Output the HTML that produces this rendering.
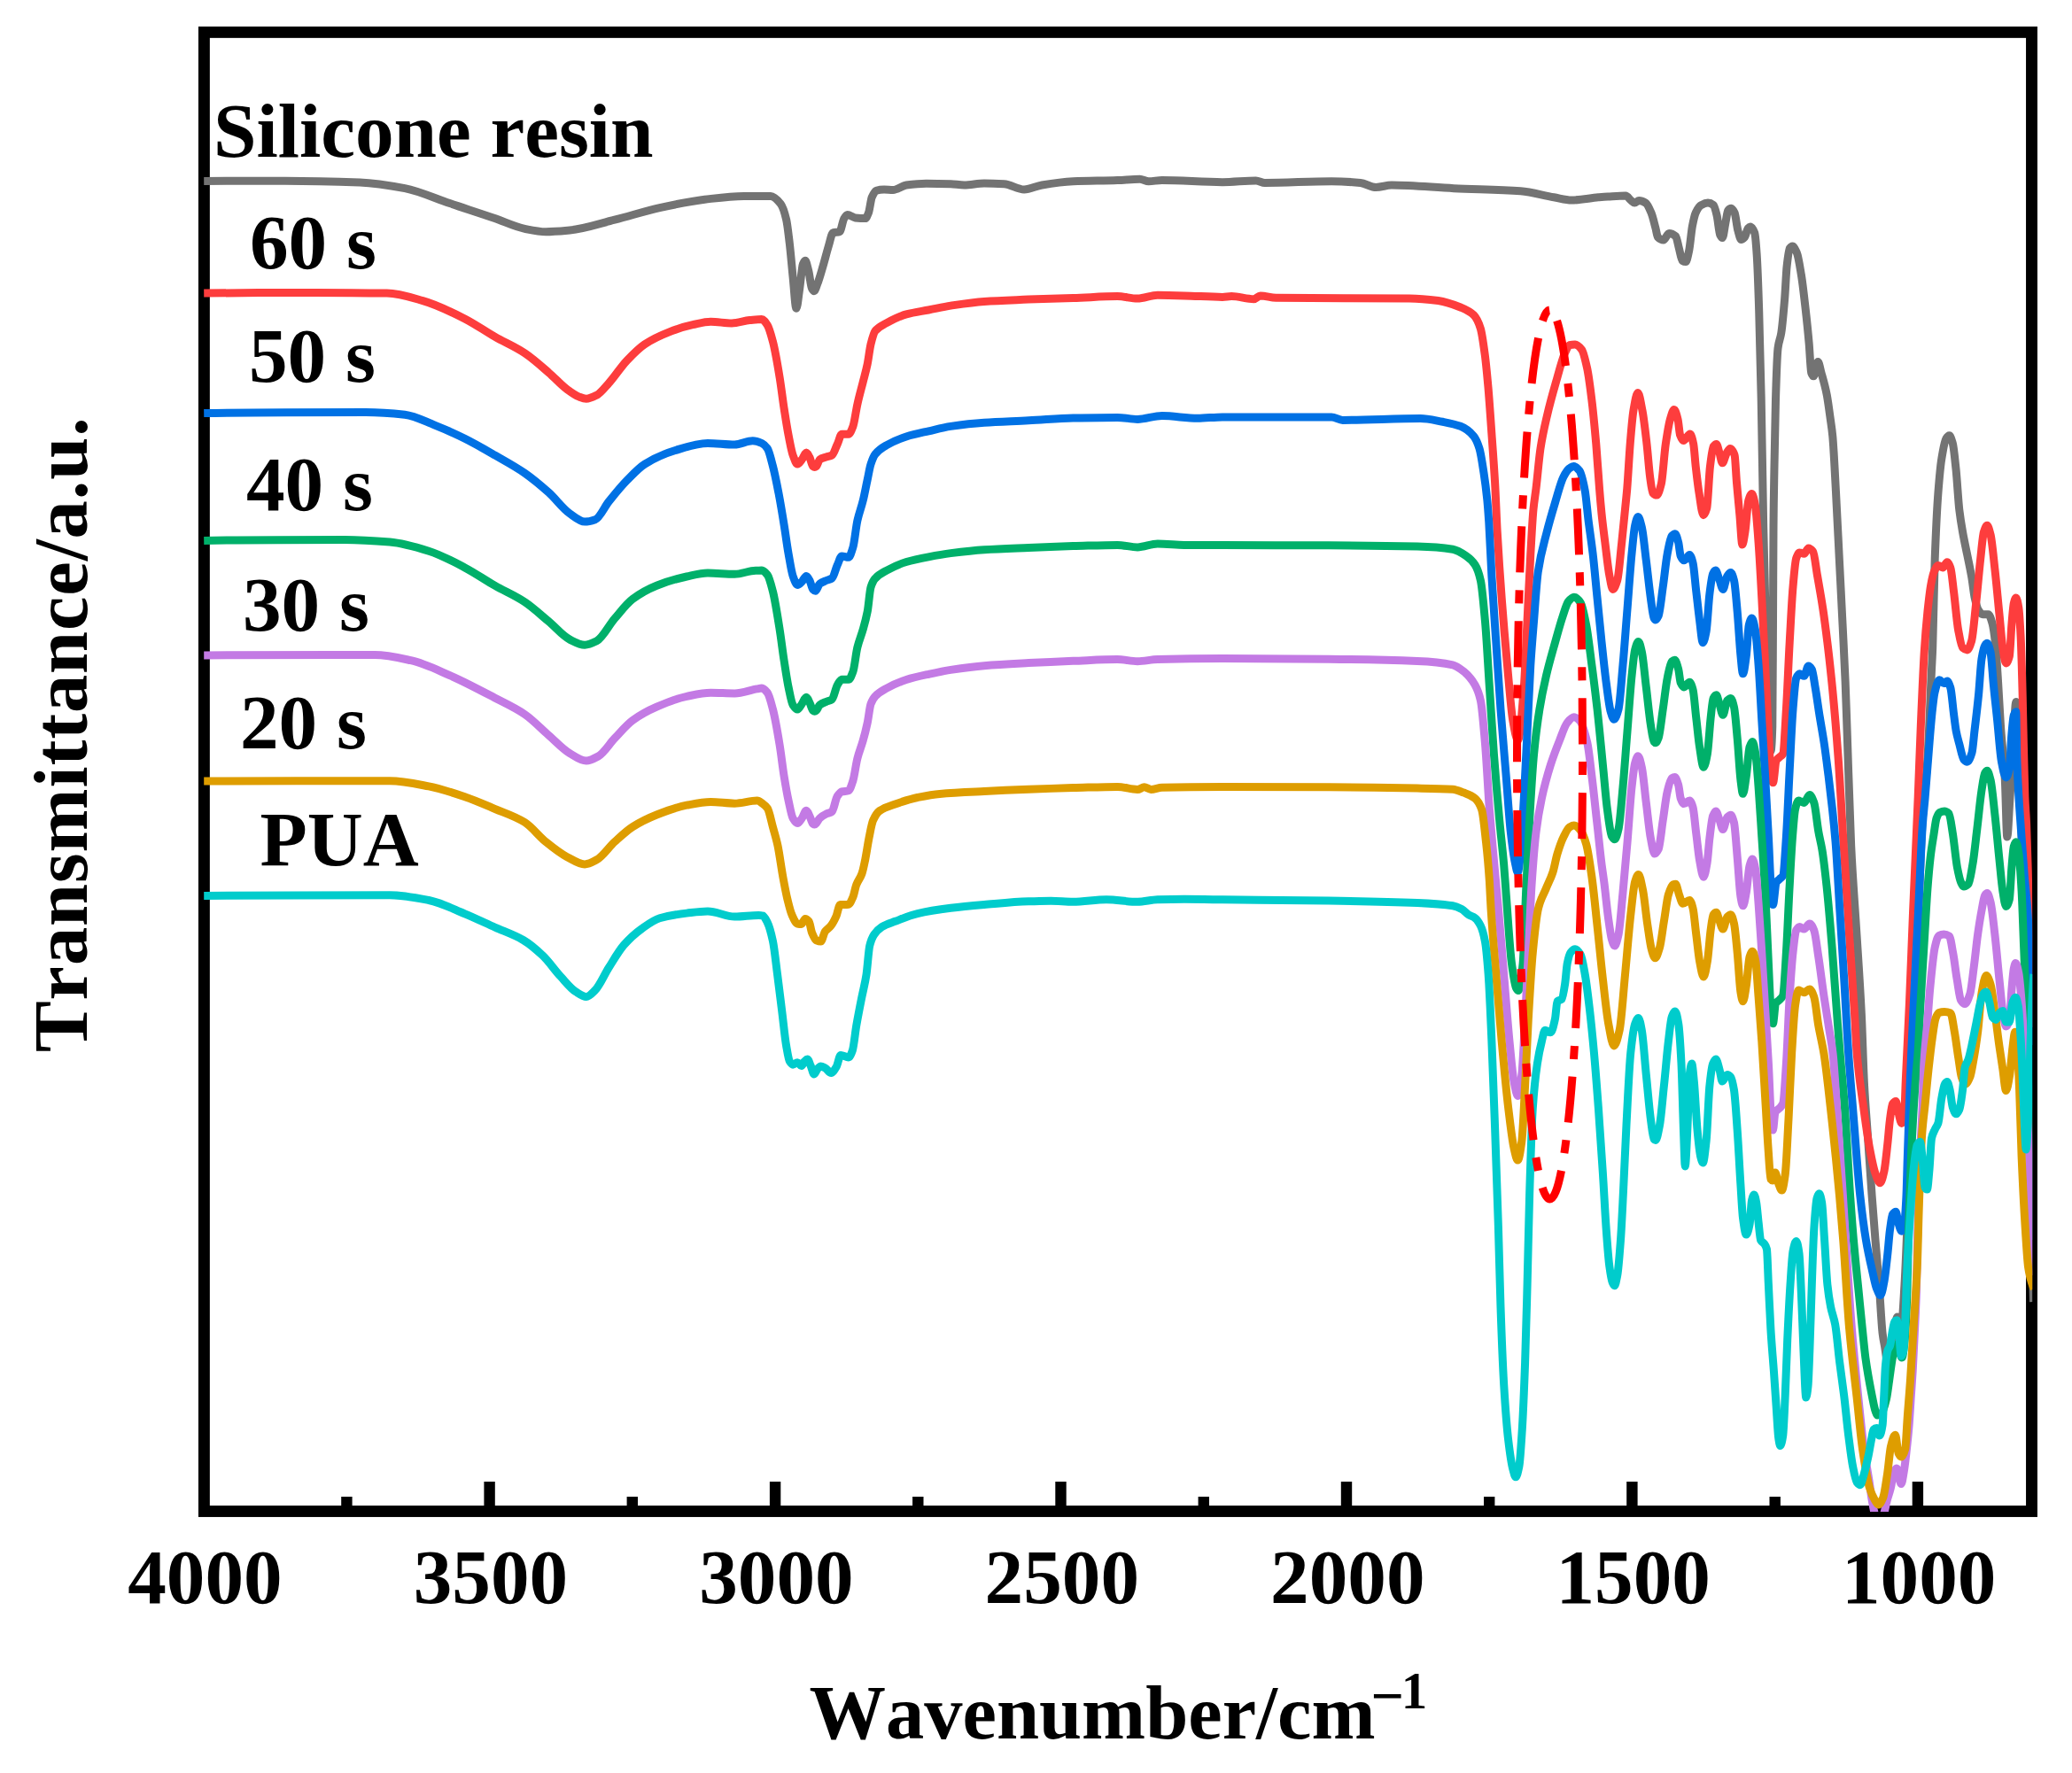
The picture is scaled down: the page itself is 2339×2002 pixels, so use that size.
<!DOCTYPE html>
<html lang="en"><head><meta charset="utf-8"><title>FTIR spectra</title>
<style>
html,body{margin:0;padding:0;background:#fff}
body{width:2339px;height:2002px;overflow:hidden}
svg{display:block}
text{font-family:"Liberation Serif",serif;font-weight:bold;fill:#000;font-kerning:none}
</style></head><body>
<svg width="2339" height="2002" viewBox="0 0 2339 2002">
<rect width="2339" height="2002" fill="#fff"/>
<defs><clipPath id="plot"><rect x="230.0" y="36.4" width="2064.2" height="1670.5"/></clipPath></defs>
<rect x="230.4" y="36.4" width="2063.1" height="1670.1" fill="none" stroke="#000" stroke-width="12.9"/>
<path d="M552.6 1706.5V1673.1M875.1 1706.5V1673.1M1197.5 1706.5V1673.1M1520.0 1706.5V1673.1M1842.4 1706.5V1673.1M2164.9 1706.5V1673.1M391.4 1706.5V1689.9M713.8 1706.5V1689.9M1036.3 1706.5V1689.9M1358.8 1706.5V1689.9M1681.2 1706.5V1689.9M2003.7 1706.5V1689.9" stroke="#000" stroke-width="12.4" fill="none"/>
<g clip-path="url(#plot)" fill="none" stroke-width="9" stroke-linejoin="round" stroke-linecap="butt">
<path stroke="#737373" d="M230.2 204.5C260.7 204.2 291.1 204.2 321.6 204.2C349.8 204.2 378.0 204.9 406.2 205.9C423.1 206.5 440.1 209.4 457.0 212.6C473.9 215.8 490.8 224.0 507.7 229.6C524.6 235.3 541.6 240.7 558.5 246.5C569.8 250.4 581.1 256.1 592.4 258.3C600.3 259.9 608.2 261.7 616.1 261.7C625.1 261.7 634.2 260.8 643.2 260.0C660.1 258.4 677.0 252.4 693.9 248.2C710.8 244.0 727.8 238.3 744.7 234.6C761.6 230.9 778.6 227.2 795.5 225.2C810.2 223.5 824.8 221.4 839.5 221.4C846.3 221.4 853.2 221.5 860.0 221.5C863.3 221.5 866.7 221.5 870.0 221.5C873.8 221.5 877.5 225.5 881.3 230.3C883.4 233.0 885.5 239.1 887.6 247.9C888.9 253.2 890.1 264.8 891.4 275.5C892.6 286.0 893.9 301.1 895.1 313.1C896.4 325.4 897.6 348.3 898.9 348.3C900.2 348.3 901.4 334.1 902.7 325.7C903.9 317.5 905.2 301.1 906.4 298.1C907.2 296.1 908.1 294.3 908.9 294.3C910.2 294.3 911.4 300.8 912.7 305.6C914.0 310.4 915.2 323.3 916.5 325.7C917.3 327.3 918.2 328.7 919.0 328.7C920.2 328.7 921.5 323.8 922.7 320.7C924.8 315.4 926.9 307.7 929.0 300.6C931.1 293.5 933.2 284.9 935.3 278.0C937.0 272.6 938.6 263.4 940.3 262.9C942.8 262.1 945.3 262.5 947.8 261.7C949.5 261.2 951.2 249.3 952.9 246.6C954.1 244.6 955.4 242.4 956.6 242.4C959.5 242.4 962.5 245.6 965.4 245.9C969.2 246.3 972.9 246.6 976.7 246.6C978.0 246.6 979.2 243.4 980.5 240.3C981.7 237.3 983.0 225.7 984.2 222.8C985.9 218.9 987.5 215.8 989.2 215.3C992.1 214.4 995.1 214.0 998.0 214.0C1001.4 214.0 1004.7 214.5 1008.1 214.5C1013.1 214.5 1018.1 209.7 1023.1 209.0C1030.6 208.0 1038.2 207.2 1045.7 207.2C1054.9 207.2 1064.1 207.4 1073.3 207.7C1078.3 207.9 1083.4 209.0 1088.4 209.0C1095.9 209.0 1103.5 207.0 1111.0 207.0C1118.5 207.0 1126.1 207.3 1133.6 207.7C1141.1 208.1 1148.6 214.0 1156.1 214.0C1162.8 214.0 1169.5 210.1 1176.2 209.0C1187.9 207.0 1199.7 205.2 1211.4 204.7C1228.1 204.0 1244.8 204.1 1261.5 203.5C1269.9 203.2 1278.2 202.2 1286.6 202.2C1290.0 202.2 1293.3 204.7 1296.7 204.7C1301.7 204.7 1306.7 203.5 1311.7 203.5C1334.5 203.5 1357.2 205.7 1380.0 205.7C1392.6 205.7 1405.2 204.0 1417.8 204.0C1421.1 204.0 1424.5 206.5 1427.8 206.5C1452.9 206.5 1478.0 204.7 1503.1 204.7C1514.0 204.7 1524.9 205.4 1535.8 206.5C1541.6 207.1 1547.5 211.5 1553.3 211.5C1559.2 211.5 1565.0 209.0 1570.9 209.0C1594.3 209.0 1617.8 211.6 1641.2 212.7C1666.3 213.9 1691.4 214.0 1716.5 215.8C1729.0 216.7 1741.6 220.7 1754.1 222.8C1760.8 223.9 1767.5 226.0 1774.2 226.0C1784.2 226.0 1794.3 223.7 1804.3 222.8C1807.9 222.5 1811.4 222.2 1815.0 222.0C1821.7 221.6 1828.4 221.0 1835.1 221.0C1837.2 221.0 1839.3 224.9 1841.4 226.5C1842.7 227.5 1843.9 229.1 1845.2 229.1C1846.9 229.1 1848.5 226.5 1850.2 226.5C1852.7 226.5 1855.2 227.6 1857.7 229.1C1859.8 230.3 1861.9 235.3 1864.0 240.3C1865.7 244.3 1867.3 251.6 1869.0 257.9C1869.8 261.0 1870.7 267.1 1871.5 267.9C1873.6 270.0 1875.7 271.0 1877.8 271.0C1879.9 271.0 1882.0 263.4 1884.1 263.4C1886.6 263.4 1889.1 264.6 1891.6 266.7C1892.9 267.8 1894.1 275.8 1895.4 280.5C1896.6 285.0 1897.9 293.5 1899.1 294.3C1900.4 295.1 1901.6 295.6 1902.9 295.6C1904.2 295.6 1905.4 288.8 1906.7 283.0C1907.9 277.3 1909.2 261.8 1910.4 255.4C1911.7 248.8 1912.9 243.0 1914.2 240.3C1916.3 235.8 1918.4 232.7 1920.5 231.6C1923.0 230.2 1925.5 229.1 1928.0 229.1C1930.1 229.1 1932.2 230.0 1934.3 231.6C1935.5 232.5 1936.8 237.9 1938.0 242.9C1939.3 248.0 1940.5 262.9 1941.8 265.4C1942.6 267.0 1943.5 268.5 1944.3 268.5C1945.6 268.5 1946.8 256.6 1948.1 250.4C1948.9 246.3 1949.8 238.8 1950.6 237.8C1951.8 236.3 1953.1 235.3 1954.3 235.3C1955.6 235.3 1956.8 237.6 1958.1 240.3C1959.4 243.0 1960.6 255.8 1961.9 260.4C1963.1 264.8 1964.4 270.5 1965.6 270.5C1966.9 270.5 1968.1 269.3 1969.4 267.9C1970.7 266.5 1971.9 259.4 1973.2 257.9C1974.0 256.9 1974.9 255.9 1975.7 255.9C1977.4 255.9 1979.0 258.4 1980.7 262.9C1981.5 265.1 1982.4 276.0 1983.2 288.0C1984.0 300.0 1984.9 325.2 1985.7 350.8C1986.5 376.4 1987.4 410.7 1988.2 450.0C1989.0 489.3 1989.9 554.8 1990.7 595.0C1991.6 640.0 1992.6 672.2 1993.5 710.0C1994.5 749.2 1995.4 812.7 1996.4 826.0C1997.3 838.0 1998.1 848.0 1999.0 848.0C1999.6 848.0 2000.2 839.5 2000.8 820.0C2001.0 812.4 2001.3 744.3 2001.5 700.0C2001.7 668.4 2001.8 613.3 2002.0 595.0C2002.3 558.3 2002.7 545.5 2003.0 526.0C2003.5 496.7 2004.0 467.3 2004.5 451.0C2005.3 423.9 2006.2 400.1 2007.0 393.4C2008.3 383.2 2009.5 383.9 2010.8 375.9C2012.1 367.9 2013.3 353.6 2014.6 338.2C2015.4 328.1 2016.3 308.1 2017.1 300.6C2018.2 291.0 2019.2 282.0 2020.3 280.5C2021.3 279.0 2022.4 278.0 2023.4 278.0C2025.1 278.0 2026.7 281.7 2028.4 285.5C2030.1 289.3 2031.7 300.3 2033.4 310.6C2035.1 320.9 2036.7 335.9 2038.4 350.8C2039.7 362.1 2040.9 374.0 2042.2 388.4C2043.0 397.9 2043.9 418.7 2044.7 421.0C2045.5 423.3 2046.4 424.8 2047.2 424.8C2048.9 424.8 2050.5 408.5 2052.2 408.5C2053.5 408.5 2054.7 416.5 2056.0 421.0C2058.1 428.5 2060.2 435.3 2062.3 446.1C2063.5 452.4 2064.8 462.2 2066.0 471.2C2066.9 478.0 2067.9 483.1 2068.8 492.9C2070.0 505.8 2071.3 533.2 2072.5 555.7C2073.8 578.9 2075.0 605.9 2076.3 631.0C2077.6 656.1 2078.8 680.5 2080.1 706.3C2081.1 726.7 2082.1 744.8 2083.1 769.0C2083.8 785.1 2084.4 806.2 2085.1 825.0C2086.6 868.2 2088.2 923.9 2089.7 955.7C2091.8 999.2 2093.9 1022.0 2096.0 1056.1C2097.8 1084.8 2099.5 1107.9 2101.3 1143.9C2102.4 1165.6 2103.4 1205.1 2104.5 1225.0C2105.8 1248.6 2107.0 1262.0 2108.3 1280.4C2109.9 1303.7 2111.5 1328.3 2113.1 1350.0C2114.4 1367.7 2115.7 1383.9 2117.0 1400.0C2118.4 1417.3 2119.8 1431.9 2121.2 1450.0C2122.5 1467.2 2123.9 1495.6 2125.2 1506.3C2126.0 1513.0 2126.9 1516.1 2127.7 1521.0C2128.8 1527.4 2129.9 1540.0 2131.0 1540.0C2132.7 1540.0 2134.3 1527.7 2136.0 1520.0C2138.0 1510.9 2139.9 1487.0 2141.9 1487.0C2143.3 1487.0 2144.6 1500.0 2146.0 1500.0C2147.3 1500.0 2148.7 1471.7 2150.0 1450.0C2151.7 1422.9 2153.3 1374.4 2155.0 1330.0C2156.7 1285.6 2158.3 1226.4 2160.0 1180.0C2161.7 1133.6 2163.3 1091.6 2165.0 1050.0C2166.7 1008.4 2168.3 957.7 2170.0 930.0C2172.0 896.8 2174.0 887.2 2176.0 855.0C2177.5 830.8 2179.0 788.4 2180.5 756.5C2180.9 748.0 2181.3 742.0 2181.7 731.4C2182.5 709.3 2183.4 653.6 2184.2 631.0C2185.5 596.6 2186.7 572.4 2188.0 555.7C2189.3 539.0 2190.5 526.0 2191.8 518.0C2193.5 507.5 2195.1 498.0 2196.8 495.4C2198.0 493.4 2199.3 491.7 2200.5 491.7C2201.8 491.7 2203.0 496.0 2204.3 500.5C2205.6 505.0 2206.8 518.4 2208.1 530.6C2209.3 542.5 2210.6 565.2 2211.8 575.8C2213.1 586.7 2214.3 593.6 2215.6 600.9C2217.3 610.4 2218.9 617.6 2220.6 625.9C2222.3 634.2 2223.9 641.4 2225.6 651.0C2226.9 658.3 2228.1 670.5 2229.4 676.1C2230.7 681.7 2231.9 686.7 2233.2 688.7C2234.9 691.3 2236.5 693.7 2238.2 693.7C2240.3 693.7 2242.4 693.7 2244.5 693.7C2246.0 693.7 2247.5 698.6 2249.0 703.7C2250.2 707.6 2251.3 715.8 2252.5 726.3C2253.5 735.3 2254.5 753.5 2255.5 769.0C2256.5 784.5 2257.5 805.4 2258.5 820.0C2260.1 843.3 2261.7 852.0 2263.3 880.0C2264.1 894.6 2265.0 945.0 2265.8 945.0C2266.9 945.0 2267.9 915.4 2269.0 900.0C2270.0 885.5 2271.0 870.9 2272.0 855.3C2273.3 835.5 2274.5 792.5 2275.8 792.5C2276.9 792.5 2277.9 826.5 2279.0 850.0C2280.7 886.8 2282.3 944.2 2284.0 1000.0C2285.3 1044.6 2286.7 1094.3 2288.0 1150.0C2289.0 1191.8 2290.0 1244.7 2291.0 1290.0C2291.8 1327.7 2292.7 1367.6 2293.5 1400.0C2294.2 1425.9 2294.8 1449.3 2295.5 1470.0"/>
<path stroke="#fd3d3d" d="M230.2 331.1C271.9 330.5 313.7 330.4 355.4 330.4C382.5 330.4 409.6 330.6 436.7 331.1C450.2 331.3 463.8 335.8 477.3 339.6C493.1 344.0 508.9 351.9 524.7 359.9C536.0 365.6 547.2 373.7 558.5 380.2C569.8 386.7 581.1 391.3 592.4 398.8C601.4 404.8 610.5 413.0 619.5 420.8C626.3 426.6 633.0 434.4 639.8 439.4C644.3 442.7 648.8 446.2 653.3 447.9C656.1 449.0 659.0 450.3 661.8 450.3C665.7 450.3 669.7 448.2 673.6 446.2C678.1 443.9 682.7 437.7 687.2 432.7C694.0 425.3 700.7 414.5 707.5 407.3C714.3 400.1 721.0 393.2 727.8 388.7C736.8 382.8 745.9 378.6 754.9 375.1C763.9 371.6 773.0 368.6 782.0 366.7C788.8 365.3 795.5 363.3 802.3 363.3C810.2 363.3 818.1 365.0 826.0 365.0C832.8 365.0 839.5 362.3 846.3 361.6C850.8 361.2 855.3 360.6 859.8 360.6C862.0 360.6 864.1 363.9 866.3 367.1C868.4 370.3 870.4 378.0 872.5 385.9C875.0 395.6 877.6 410.7 880.1 426.1C881.8 436.3 883.4 450.4 885.1 461.3C886.8 472.1 888.4 482.7 890.1 491.4C891.8 500.0 893.4 509.4 895.1 514.0C896.8 518.6 898.5 524.0 900.2 524.0C901.9 524.0 903.5 521.0 905.2 519.0C906.9 516.9 908.5 511.0 910.2 511.0C911.5 511.0 912.7 514.1 914.0 516.5C915.2 518.8 916.5 525.6 917.7 526.6C918.3 527.1 919.0 527.6 919.6 527.6C920.2 527.6 920.9 527.1 921.5 526.6C922.8 525.6 924.0 519.9 925.3 519.0C927.8 517.2 930.3 516.9 932.8 516.0C934.9 515.3 937.0 515.2 939.1 514.0C941.2 512.9 943.2 505.9 945.3 501.5C947.0 498.0 948.6 490.2 950.3 490.2C952.8 490.2 955.4 490.3 957.9 490.3C959.6 490.3 961.2 485.8 962.9 481.5C964.6 477.1 966.2 463.8 967.9 456.4C970.0 447.0 972.1 439.7 974.2 431.3C975.9 424.6 977.5 419.3 979.2 411.2C980.5 405.1 981.7 393.8 983.0 388.6C984.7 381.9 986.3 375.7 988.0 373.7C992.2 368.5 996.3 367.2 1000.5 364.9C1008.0 360.7 1015.6 356.9 1023.1 354.9C1031.5 352.6 1039.8 351.6 1048.2 350.0C1056.6 348.4 1064.9 346.4 1073.3 345.1C1085.9 343.2 1098.4 341.2 1111.0 340.4C1127.7 339.2 1144.5 338.8 1161.2 338.1C1177.9 337.5 1194.7 337.1 1211.4 336.5C1228.1 336.0 1244.8 334.6 1261.5 334.6C1269.0 334.6 1276.6 337.1 1284.1 337.1C1291.6 337.1 1299.2 333.3 1306.7 333.3C1316.7 333.3 1326.8 333.6 1336.8 333.9C1351.2 334.2 1365.6 335.4 1380.0 335.4C1383.4 335.4 1386.8 334.6 1390.2 334.6C1398.6 334.6 1406.9 337.7 1415.3 337.7C1417.8 337.7 1420.3 333.9 1422.8 333.9C1428.7 333.9 1434.5 336.2 1440.4 336.3C1490.6 337.0 1540.8 336.5 1591.0 337.1C1601.9 337.2 1612.7 338.2 1623.6 339.5C1632.0 340.6 1640.3 343.6 1648.7 347.0C1653.7 349.1 1658.7 351.0 1663.7 355.8C1666.2 358.3 1668.8 363.0 1671.3 370.8C1673.0 376.0 1674.6 388.4 1676.3 401.0C1677.6 410.6 1678.8 424.1 1680.1 438.6C1681.3 452.7 1682.6 471.4 1683.8 488.8C1685.1 506.7 1686.3 522.7 1687.6 545.0C1688.5 560.3 1689.3 584.7 1690.2 600.2C1691.9 630.1 1693.5 653.2 1695.2 675.5C1697.3 703.6 1699.4 728.0 1701.5 750.8C1703.6 773.6 1705.7 801.7 1707.8 813.5C1709.7 824.2 1711.6 836.0 1713.5 836.0C1715.8 836.0 1718.0 804.7 1720.3 775.9C1721.6 759.8 1722.8 726.0 1724.1 700.6C1725.3 675.8 1726.6 647.1 1727.8 625.3C1728.9 606.4 1729.9 586.1 1731.0 575.0C1732.0 564.6 1733.0 559.8 1734.0 551.5C1735.7 537.6 1737.3 517.3 1739.0 506.4C1741.5 489.9 1744.1 479.6 1746.6 468.7C1749.9 454.4 1753.3 442.7 1756.6 431.1C1759.9 419.5 1763.3 405.8 1766.6 398.5C1768.3 394.8 1770.0 390.1 1771.7 389.7C1773.8 389.2 1775.8 388.9 1777.9 388.9C1780.4 388.9 1783.0 391.5 1785.5 394.7C1787.6 397.3 1789.6 406.4 1791.7 416.0C1793.4 423.9 1795.1 437.3 1796.8 451.2C1798.5 464.8 1800.1 482.0 1801.8 501.4C1803.0 515.7 1804.3 536.3 1805.5 551.5C1806.3 561.8 1807.2 571.9 1808.0 580.0C1809.3 592.7 1810.6 602.4 1811.9 612.7C1813.6 626.0 1815.2 641.9 1816.9 650.4C1818.2 656.9 1819.4 665.4 1820.7 665.4C1822.4 665.4 1824.0 660.8 1825.7 655.4C1827.4 650.0 1829.0 628.0 1830.7 612.7C1832.0 601.0 1833.2 587.9 1834.5 575.1C1835.3 567.4 1836.0 560.7 1836.8 551.5C1837.9 537.9 1839.1 515.1 1840.2 501.4C1841.4 486.5 1842.7 471.0 1843.9 463.7C1845.6 453.9 1847.2 443.6 1848.9 443.6C1850.6 443.6 1852.3 454.9 1854.0 463.7C1855.7 472.3 1857.3 486.9 1859.0 501.4C1860.2 512.2 1861.5 530.1 1862.7 539.0C1863.7 546.5 1864.8 555.5 1865.8 556.6C1867.3 558.2 1868.8 559.1 1870.3 559.1C1872.0 559.1 1873.6 553.1 1875.3 546.5C1877.0 539.9 1878.6 512.8 1880.3 501.4C1882.0 490.0 1883.6 479.4 1885.3 473.7C1886.8 468.6 1888.3 462.5 1889.8 462.5C1891.2 462.5 1892.7 468.0 1894.1 473.7C1894.9 477.0 1895.8 489.0 1896.6 491.3C1897.9 494.9 1899.1 497.6 1900.4 497.6C1902.9 497.6 1905.4 490.1 1907.9 490.1C1909.2 490.1 1910.4 495.4 1911.7 501.4C1912.5 505.4 1913.4 519.0 1914.2 526.4C1915.5 537.7 1916.7 548.7 1918.0 556.6C1919.7 567.0 1921.3 581.7 1923.0 581.7C1924.2 581.7 1925.5 578.4 1926.7 574.1C1928.0 569.6 1929.2 536.6 1930.5 526.4C1931.8 516.2 1933.0 505.6 1934.3 503.9C1935.4 502.5 1936.4 501.4 1937.5 501.4C1938.7 501.4 1939.8 507.8 1941.0 511.4C1942.1 514.8 1943.2 522.7 1944.3 522.7C1946.0 522.7 1947.6 514.1 1949.3 511.4C1950.6 509.3 1951.8 506.4 1953.1 506.4C1954.8 506.4 1956.4 509.0 1958.1 513.9C1958.9 516.3 1959.7 535.5 1960.5 545.0C1961.7 558.9 1962.8 570.0 1964.0 583.0C1964.9 593.4 1965.9 615.0 1966.8 615.0C1967.9 615.0 1968.9 606.7 1970.0 600.2C1971.3 592.5 1972.5 569.3 1973.8 565.1C1975.1 560.9 1976.3 557.5 1977.6 557.5C1978.8 557.5 1980.1 563.7 1981.3 570.1C1982.6 576.7 1983.8 595.6 1985.1 612.7C1986.3 629.4 1987.6 653.0 1988.8 675.5C1990.1 698.7 1991.3 725.7 1992.6 750.8C1993.9 775.9 1995.1 803.2 1996.4 826.1C1997.4 844.2 1998.4 870.4 1999.4 876.3C2000.1 880.2 2000.7 883.8 2001.4 883.8C2002.7 883.8 2003.9 860.9 2005.2 858.7C2006.4 856.5 2007.7 856.1 2008.9 854.9C2010.2 853.6 2011.4 853.5 2012.7 851.2C2013.9 849.0 2015.2 820.8 2016.4 801.0C2017.7 780.6 2018.9 748.5 2020.2 725.7C2021.5 702.9 2022.7 677.4 2024.0 662.9C2025.2 648.7 2026.5 633.8 2027.7 630.3C2029.0 626.8 2030.2 624.0 2031.5 624.0C2033.2 624.0 2034.8 625.3 2036.5 625.3C2038.2 625.3 2039.8 619.0 2041.5 619.0C2043.2 619.0 2044.9 620.6 2046.6 622.8C2048.3 625.0 2049.9 640.9 2051.6 650.4C2053.7 662.4 2055.8 673.9 2057.9 688.0C2059.6 699.2 2061.2 711.9 2062.9 725.7C2064.9 742.0 2066.8 759.6 2068.8 780.0C2070.9 801.8 2073.0 826.4 2075.1 855.3C2077.2 883.7 2079.2 922.5 2081.3 955.7C2083.4 989.4 2085.5 1023.8 2087.6 1056.1C2089.6 1086.4 2091.5 1112.4 2093.5 1143.9C2094.4 1158.3 2095.3 1179.5 2096.2 1190.0C2098.7 1218.7 2101.1 1231.9 2103.6 1250.0C2105.9 1266.9 2108.2 1284.1 2110.5 1296.3C2112.7 1307.8 2114.8 1319.1 2117.0 1325.0C2118.8 1329.9 2120.6 1335.8 2122.4 1335.8C2123.9 1335.8 2125.4 1329.2 2126.9 1322.7C2128.1 1317.4 2129.4 1304.3 2130.6 1293.3C2131.6 1284.7 2132.5 1271.2 2133.5 1264.0C2134.5 1256.6 2135.5 1247.8 2136.5 1246.4C2137.7 1244.7 2138.9 1243.5 2140.1 1243.5C2141.1 1243.5 2142.1 1252.9 2143.1 1256.7C2144.3 1261.2 2145.5 1268.4 2146.7 1268.4C2147.7 1268.4 2148.7 1263.9 2149.7 1256.7C2150.2 1252.9 2150.8 1231.8 2151.3 1220.0C2152.7 1189.0 2154.1 1163.5 2155.5 1131.4C2156.8 1100.8 2158.2 1063.1 2159.5 1031.0C2161.4 985.3 2163.3 946.5 2165.2 900.0C2166.2 874.7 2167.3 844.1 2168.3 820.0C2169.6 788.9 2171.0 755.9 2172.3 735.3C2173.5 716.2 2174.8 701.9 2176.0 690.0C2177.3 677.8 2178.5 666.8 2179.8 660.0C2181.0 653.4 2182.3 647.7 2183.5 645.0C2185.0 641.8 2186.5 638.5 2188.0 638.5C2189.7 638.5 2191.3 641.0 2193.0 641.0C2194.7 641.0 2196.3 634.7 2198.0 634.7C2199.3 634.7 2200.5 637.6 2201.8 641.0C2203.1 644.4 2204.3 658.7 2205.6 668.6C2207.3 681.6 2208.9 702.2 2210.6 711.3C2212.3 720.4 2213.9 729.9 2215.6 731.4C2217.3 732.9 2218.9 733.9 2220.6 733.9C2222.3 733.9 2223.9 729.2 2225.6 723.8C2227.3 718.3 2229.0 696.7 2230.7 681.2C2232.4 666.0 2234.0 645.9 2235.7 631.0C2236.9 620.0 2238.2 604.9 2239.4 600.9C2240.7 596.8 2241.9 593.3 2243.2 593.3C2244.5 593.3 2245.7 598.5 2247.0 603.4C2248.7 609.9 2250.3 628.6 2252.0 643.5C2253.7 658.4 2255.3 677.1 2257.0 693.7C2258.3 706.3 2259.5 723.3 2260.8 731.4C2262.0 739.3 2263.3 748.9 2264.5 748.9C2265.8 748.9 2267.0 746.0 2268.3 741.4C2269.1 738.4 2270.0 716.1 2270.8 706.3C2271.6 696.5 2272.5 684.6 2273.3 681.2C2274.1 677.8 2275.0 674.9 2275.8 674.9C2276.8 674.9 2277.8 680.1 2278.8 686.2C2279.6 690.9 2280.3 703.5 2281.1 718.4C2281.5 726.2 2281.9 739.2 2282.3 752.2C2282.6 761.9 2282.9 773.6 2283.2 786.0C2283.6 801.1 2283.9 821.1 2284.3 836.8C2284.8 859.6 2285.4 886.8 2285.9 900.0C2286.5 914.1 2287.0 917.6 2287.6 930.6C2288.1 942.8 2288.7 961.5 2289.2 980.8C2289.6 996.5 2290.1 1021.8 2290.5 1036.0C2291.3 1063.3 2292.2 1081.2 2293.0 1100.0C2294.0 1122.5 2295.0 1143.1 2296.0 1160.0"/>
<path stroke="#0071e4" d="M230.2 466.5C291.1 465.5 352.1 465.5 413.0 465.5C427.7 465.5 442.3 466.6 457.0 468.2C468.3 469.4 479.5 475.7 490.8 480.1C502.1 484.6 513.4 489.7 524.7 495.3C536.0 500.9 547.2 507.4 558.5 513.9C569.8 520.4 581.1 526.4 592.4 534.2C601.4 540.5 610.5 548.1 619.5 556.2C627.4 563.3 635.3 574.4 643.2 579.9C648.8 583.8 654.5 589.1 660.1 589.1C664.0 589.1 668.0 588.0 671.9 586.7C677.0 585.0 682.1 572.8 687.2 566.4C694.0 558.0 700.7 549.6 707.5 542.7C714.3 535.8 721.0 528.3 727.8 524.1C739.1 517.1 750.3 512.2 761.6 508.8C774.0 505.0 786.5 500.4 798.9 500.4C809.0 500.4 819.2 502.1 829.3 502.1C836.1 502.1 842.9 497.7 849.7 497.7C853.1 497.7 856.6 499.0 860.0 500.5C862.1 501.5 864.2 503.4 866.3 506.4C868.4 509.4 870.4 518.6 872.5 526.5C874.7 534.8 876.8 545.7 879.0 557.0C881.0 567.6 883.1 580.2 885.1 592.8C886.8 603.1 888.4 615.9 890.1 625.4C891.8 634.8 893.4 645.8 895.1 650.5C896.8 655.3 898.5 660.5 900.2 660.5C901.9 660.5 903.5 658.3 905.2 656.8C906.9 655.2 908.5 650.5 910.2 650.5C911.5 650.5 912.7 653.2 914.0 655.5C915.2 657.7 916.5 664.2 917.7 665.5C918.6 666.4 919.6 667.3 920.5 667.3C922.1 667.3 923.7 660.6 925.3 659.3C927.8 657.3 930.3 656.6 932.8 655.5C934.9 654.6 937.0 654.5 939.1 653.0C941.2 651.6 943.2 642.5 945.3 637.9C947.0 634.3 948.6 627.9 950.3 627.9C952.8 627.9 955.4 629.3 957.9 629.3C959.6 629.3 961.2 623.5 962.9 618.0C964.6 612.5 966.2 595.3 967.9 587.8C970.0 578.3 972.1 573.9 974.2 565.3C975.9 558.5 977.5 549.5 979.2 541.7C980.5 535.8 981.7 528.0 983.0 524.1C984.7 519.0 986.3 515.0 988.0 512.9C992.2 507.6 996.3 505.3 1000.5 502.9C1008.0 498.5 1015.6 495.4 1023.1 493.0C1031.5 490.3 1039.8 488.7 1048.2 486.8C1056.6 484.9 1064.9 482.7 1073.3 481.4C1085.9 479.5 1098.4 478.0 1111.0 477.2C1127.7 476.0 1144.5 475.7 1161.2 474.8C1177.9 474.0 1194.7 472.4 1211.4 472.0C1228.1 471.7 1244.8 471.4 1261.5 471.4C1269.0 471.4 1276.6 473.4 1284.1 473.4C1293.3 473.4 1302.5 469.5 1311.7 469.5C1325.1 469.5 1338.5 472.3 1351.9 472.3C1361.3 472.3 1370.6 470.9 1380.0 470.9C1421.0 470.9 1462.1 470.9 1503.1 471.0C1507.3 471.0 1511.5 474.4 1515.7 474.4C1545.0 474.4 1574.2 472.6 1603.5 472.6C1611.9 472.6 1620.2 474.8 1628.6 476.3C1635.3 477.6 1642.0 478.8 1648.7 481.3C1653.7 483.2 1658.7 486.6 1663.7 492.6C1665.8 495.1 1667.9 499.7 1670.0 506.4C1671.7 511.7 1673.3 523.1 1675.0 534.0C1676.3 542.3 1677.5 551.3 1678.8 564.1C1679.5 570.8 1680.1 579.8 1680.8 590.0C1681.8 605.9 1682.9 632.7 1683.9 650.4C1685.6 679.0 1687.2 700.9 1688.9 725.7C1690.6 751.1 1692.3 778.3 1694.0 801.0C1696.1 828.6 1698.1 851.1 1700.2 876.3C1701.9 897.1 1703.6 923.8 1705.3 939.0C1707.0 953.9 1708.6 966.3 1710.3 974.1C1711.3 978.8 1712.3 985.0 1713.3 985.0C1714.4 985.0 1715.4 974.0 1716.5 964.1C1717.8 952.4 1719.0 924.2 1720.3 901.4C1721.6 878.6 1722.8 851.5 1724.1 826.1C1725.3 801.3 1726.6 770.6 1727.8 750.8C1729.1 730.5 1730.3 716.5 1731.6 700.6C1733.1 681.4 1734.7 656.7 1736.2 646.0C1739.5 623.3 1742.7 614.4 1746.0 601.4C1749.3 588.1 1752.7 576.9 1756.0 565.9C1758.9 556.2 1761.9 544.5 1764.8 538.8C1767.0 534.4 1769.3 530.6 1771.5 529.0C1773.2 527.8 1775.0 526.5 1776.7 526.5C1778.8 526.5 1780.9 528.8 1783.0 531.5C1785.1 534.2 1787.1 543.1 1789.2 554.0C1790.5 560.9 1791.8 577.1 1793.1 587.6C1794.8 601.0 1796.4 610.9 1798.1 625.3C1799.8 639.7 1801.4 658.8 1803.1 675.5C1804.8 692.2 1806.4 710.0 1808.1 725.7C1809.8 741.7 1811.5 758.1 1813.2 770.9C1814.9 783.4 1816.5 797.9 1818.2 803.5C1819.5 807.7 1820.7 812.3 1822.0 812.3C1823.7 812.3 1825.3 807.1 1827.0 801.0C1828.7 794.9 1830.3 769.4 1832.0 750.8C1833.7 732.2 1835.3 708.9 1837.0 688.0C1838.7 667.1 1840.3 642.1 1842.0 625.3C1843.3 612.5 1844.5 598.0 1845.8 592.7C1846.9 588.1 1848.0 583.5 1849.1 583.5C1850.5 583.5 1851.9 589.6 1853.3 595.2C1855.0 601.9 1856.6 619.6 1858.3 632.8C1860.0 646.3 1861.7 663.6 1863.4 675.5C1864.6 684.1 1865.9 696.0 1867.1 698.1C1867.7 699.1 1868.2 700.0 1868.8 700.0C1869.9 700.0 1871.0 697.9 1872.1 695.6C1873.8 692.0 1875.5 674.7 1877.2 662.9C1878.9 651.4 1880.5 634.0 1882.2 625.3C1883.9 616.6 1885.5 607.0 1887.2 605.2C1888.5 603.8 1889.7 602.7 1891.0 602.7C1892.2 602.7 1893.5 608.0 1894.7 612.7C1895.5 615.9 1896.4 625.9 1897.2 627.8C1898.5 630.7 1899.7 632.8 1901.0 632.8C1903.1 632.8 1905.2 626.5 1907.3 626.5C1908.5 626.5 1909.8 630.7 1911.0 635.3C1912.3 640.0 1913.5 657.1 1914.8 668.0C1916.1 678.9 1917.3 691.0 1918.6 700.6C1919.8 709.9 1921.1 725.7 1922.3 725.7C1923.6 725.7 1924.8 719.6 1926.1 713.1C1927.4 706.6 1928.6 680.5 1929.9 670.5C1931.1 660.8 1932.4 650.4 1933.6 647.9C1934.6 645.8 1935.6 644.1 1936.6 644.1C1938.1 644.1 1939.7 651.4 1941.2 655.4C1942.4 658.6 1943.7 665.4 1944.9 665.4C1946.6 665.4 1948.2 652.8 1949.9 650.4C1951.2 648.5 1952.4 646.6 1953.7 646.6C1955.0 646.6 1956.2 650.7 1957.5 655.4C1958.7 660.0 1960.0 676.9 1961.2 690.5C1962.5 704.5 1963.7 728.2 1965.0 740.7C1965.8 748.9 1966.7 760.8 1967.5 760.8C1968.8 760.8 1970.0 750.1 1971.3 740.7C1972.3 733.3 1973.3 709.4 1974.3 705.6C1975.4 701.4 1976.5 698.1 1977.6 698.1C1978.8 698.1 1980.1 704.3 1981.3 710.6C1982.6 717.1 1983.8 734.3 1985.1 750.8C1986.3 766.9 1987.6 792.9 1988.8 813.5C1990.1 834.7 1991.3 854.4 1992.6 876.3C1993.9 898.2 1995.1 920.9 1996.4 945.0C1997.4 964.0 1998.4 993.6 1999.4 1005.0C2000.1 1012.6 2000.7 1021.5 2001.4 1021.5C2002.7 1021.5 2003.9 998.6 2005.2 996.4C2006.4 994.2 2007.7 993.8 2008.9 992.6C2010.2 991.3 2011.4 991.2 2012.7 988.9C2013.9 986.7 2015.2 963.3 2016.4 945.0C2017.7 926.2 2018.9 894.0 2020.2 870.0C2021.5 846.0 2022.7 816.8 2024.0 801.0C2025.2 785.6 2026.5 768.7 2027.7 765.8C2029.0 762.9 2030.2 760.8 2031.5 760.8C2033.2 760.8 2034.8 763.3 2036.5 763.3C2038.2 763.3 2039.8 752.0 2041.5 752.0C2042.8 752.0 2044.0 753.7 2045.3 755.8C2046.6 757.9 2047.8 768.5 2049.1 775.9C2050.8 785.6 2052.4 798.1 2054.1 808.5C2055.8 818.9 2057.4 827.4 2059.1 838.6C2060.8 849.8 2062.4 862.9 2064.1 876.3C2065.6 888.1 2067.0 900.1 2068.5 913.9C2069.7 924.8 2070.8 935.6 2072.0 950.0C2073.7 970.6 2075.3 1003.3 2077.0 1030.0C2078.7 1056.7 2080.3 1082.5 2082.0 1110.0C2083.6 1135.9 2085.1 1167.4 2086.7 1190.0C2088.3 1213.1 2089.9 1230.3 2091.5 1250.0C2094.3 1284.0 2097.0 1324.5 2099.8 1350.0C2102.0 1370.3 2104.2 1386.9 2106.4 1400.0C2108.9 1415.1 2111.5 1426.0 2114.0 1437.0C2115.5 1443.5 2117.0 1451.4 2118.5 1455.0C2119.9 1458.5 2121.4 1462.5 2122.8 1462.5C2124.2 1462.5 2125.5 1454.3 2126.9 1447.4C2128.1 1441.2 2129.4 1429.0 2130.6 1418.0C2131.6 1409.4 2132.5 1395.9 2133.5 1388.7C2134.5 1381.3 2135.5 1372.5 2136.5 1371.1C2137.7 1369.4 2138.9 1368.2 2140.1 1368.2C2141.1 1368.2 2142.1 1378.2 2143.1 1381.4C2144.3 1385.2 2145.5 1390.2 2146.7 1390.2C2147.7 1390.2 2148.7 1386.4 2149.7 1381.4C2150.4 1377.8 2151.2 1366.2 2151.9 1352.0C2152.4 1343.0 2152.8 1322.2 2153.3 1308.0C2153.8 1292.8 2154.3 1278.7 2154.8 1264.0C2155.3 1249.3 2155.8 1232.9 2156.3 1220.0C2156.7 1208.8 2157.2 1199.6 2157.6 1190.0C2158.5 1169.4 2159.5 1150.6 2160.4 1131.4C2162.1 1097.2 2163.7 1064.5 2165.4 1031.0C2167.1 997.5 2168.7 953.6 2170.4 930.6C2171.3 917.7 2172.3 910.9 2173.2 900.0C2174.9 880.6 2176.5 856.6 2178.2 836.8C2179.1 825.7 2180.1 813.6 2181.0 805.0C2182.0 795.8 2183.0 786.2 2184.0 782.0C2185.7 774.7 2187.5 767.7 2189.2 767.7C2190.9 767.7 2192.6 771.5 2194.3 771.5C2195.5 771.5 2196.8 769.0 2198.0 769.0C2199.3 769.0 2200.5 772.5 2201.8 776.5C2203.1 780.5 2204.3 797.0 2205.6 806.6C2206.4 812.9 2207.3 820.5 2208.1 825.0C2209.3 831.6 2210.6 835.6 2211.8 840.2C2213.5 846.6 2215.2 855.9 2216.9 857.8C2218.1 859.1 2219.4 860.3 2220.6 860.3C2222.4 860.3 2224.2 855.9 2226.0 850.0C2227.0 846.7 2228.0 833.6 2229.0 825.0C2230.5 812.1 2232.0 800.2 2233.5 785.0C2234.7 773.1 2235.8 751.1 2237.0 744.0C2238.2 736.5 2239.5 730.7 2240.7 728.8C2241.5 727.5 2242.4 726.3 2243.2 726.3C2244.5 726.3 2245.7 731.0 2247.0 736.4C2248.2 741.4 2249.3 762.2 2250.5 774.0C2251.8 787.5 2253.2 799.2 2254.5 812.0C2256.2 828.0 2257.8 851.7 2259.5 860.3C2261.2 868.9 2262.8 877.9 2264.5 877.9C2265.8 877.9 2267.0 873.8 2268.3 867.8C2269.1 863.8 2270.0 839.6 2270.8 830.2C2271.6 820.8 2272.5 809.8 2273.3 807.6C2274.1 805.4 2275.0 803.8 2275.8 803.8C2276.1 803.8 2276.5 844.7 2276.8 855.3C2277.5 877.5 2278.2 887.9 2278.9 900.0C2279.6 912.1 2280.3 920.7 2281.0 930.6C2282.3 949.4 2283.7 968.4 2285.0 985.0C2286.3 1001.6 2287.7 1011.6 2289.0 1031.0C2290.5 1052.3 2291.9 1086.9 2293.4 1118.8C2294.3 1137.7 2295.1 1158.4 2296.0 1180.0"/>
<path stroke="#00b06a" d="M230.2 610.4C283.2 609.4 336.3 609.4 389.3 609.4C406.2 609.4 423.1 610.6 440.0 612.1C454.7 613.4 469.3 617.7 484.0 622.2C497.6 626.4 511.1 633.8 524.7 640.9C536.0 646.8 547.2 654.7 558.5 661.2C569.8 667.7 581.1 672.3 592.4 679.8C601.4 685.8 610.5 694.3 619.5 701.8C627.4 708.4 635.3 718.2 643.2 722.1C648.8 724.9 654.5 728.2 660.1 728.2C664.6 728.2 669.1 726.0 673.6 723.8C680.4 720.4 687.1 706.3 693.9 698.4C700.7 690.5 707.4 681.5 714.2 676.4C723.2 669.6 732.3 664.8 741.3 661.2C752.6 656.7 763.9 653.4 775.2 651.0C783.1 649.3 791.0 647.0 798.9 647.0C809.0 647.0 819.2 648.3 829.3 648.3C837.2 648.3 845.1 644.4 853.0 644.2C855.3 644.2 857.7 644.1 860.0 644.1C862.1 644.1 864.2 646.5 866.3 649.1C868.4 651.7 870.4 660.0 872.5 668.0C875.0 677.9 877.6 694.7 880.1 710.6C881.8 721.1 883.4 735.0 885.1 745.9C886.8 756.7 888.4 767.9 890.1 776.0C891.8 784.0 893.4 793.4 895.1 796.1C896.8 798.7 898.5 801.1 900.2 801.1C901.9 801.1 903.5 797.1 905.2 794.8C906.9 792.5 908.5 787.3 910.2 787.3C911.5 787.3 912.7 791.0 914.0 793.5C915.2 795.9 916.5 801.3 917.7 802.3C918.3 802.8 919.0 803.3 919.6 803.3C920.2 803.3 920.9 802.8 921.5 802.3C922.8 801.3 924.0 797.1 925.3 796.1C927.8 794.1 930.3 793.4 932.8 792.3C934.9 791.4 937.0 791.3 939.1 789.8C941.2 788.4 943.2 777.0 945.3 773.5C947.0 770.7 948.6 767.2 950.3 767.2C952.8 767.2 955.4 767.3 957.9 767.3C959.6 767.3 961.2 762.9 962.9 758.5C964.6 754.0 966.2 737.7 967.9 730.9C970.0 722.3 972.1 718.3 974.2 710.8C975.9 704.9 977.5 699.5 979.2 690.7C980.5 684.1 981.7 667.2 983.0 663.1C984.7 657.8 986.3 655.0 988.0 653.2C992.2 648.5 996.3 646.7 1000.5 644.4C1008.0 640.2 1015.6 636.7 1023.1 634.5C1031.5 632.0 1039.8 630.4 1048.2 628.8C1056.6 627.2 1064.9 625.7 1073.3 624.6C1085.9 623.0 1098.4 621.5 1111.0 620.7C1127.7 619.6 1144.5 619.1 1161.2 618.4C1177.9 617.8 1194.7 617.1 1211.4 616.6C1228.1 616.2 1244.8 615.4 1261.5 615.4C1269.0 615.4 1276.6 617.9 1284.1 617.9C1291.6 617.9 1299.2 614.0 1306.7 614.0C1316.7 614.0 1326.8 615.2 1336.8 615.4C1351.2 615.5 1365.6 615.6 1380.0 615.6C1420.0 615.7 1460.0 615.7 1500.0 615.8C1533.3 615.9 1566.7 616.2 1600.0 617.1C1613.3 617.4 1626.7 618.2 1640.0 620.3C1645.0 621.1 1650.1 624.4 1655.1 627.8C1658.4 630.1 1661.8 632.7 1665.1 637.8C1667.2 641.0 1669.3 646.3 1671.4 655.4C1673.1 662.7 1674.7 681.8 1676.4 700.6C1678.1 719.4 1679.7 750.8 1681.4 775.9C1683.1 801.0 1684.7 828.9 1686.4 851.2C1688.5 879.3 1690.6 903.6 1692.7 926.4C1694.4 944.5 1696.0 957.2 1697.7 976.6C1698.5 986.3 1699.4 999.2 1700.2 1010.0C1702.3 1037.1 1704.4 1072.2 1706.5 1088.0C1708.2 1100.5 1709.8 1112.6 1711.5 1115.6C1712.3 1117.1 1713.2 1118.5 1714.0 1118.5C1715.7 1118.5 1717.4 1104.7 1719.1 1088.0C1720.3 1075.9 1721.6 1029.5 1722.8 1003.0C1724.1 975.8 1725.3 948.4 1726.6 926.4C1728.3 897.5 1729.9 868.8 1731.6 851.2C1733.7 829.1 1735.8 814.0 1737.9 801.0C1740.4 785.5 1742.9 774.1 1745.4 763.3C1748.7 748.9 1752.1 737.6 1755.4 725.7C1758.3 715.2 1761.3 704.2 1764.2 695.6C1766.3 689.4 1768.4 681.8 1770.5 679.2C1772.6 676.6 1774.7 674.2 1776.8 674.2C1779.3 674.2 1781.8 677.0 1784.3 680.5C1786.4 683.5 1788.5 694.8 1790.6 705.6C1792.7 716.4 1794.8 734.8 1796.9 750.8C1799.0 766.5 1801.0 782.6 1803.1 801.0C1805.2 819.7 1807.3 842.7 1809.4 863.7C1811.1 880.4 1812.7 901.4 1814.4 913.9C1816.1 926.4 1817.7 940.9 1819.4 944.0C1820.5 946.0 1821.6 947.8 1822.7 947.8C1824.1 947.8 1825.6 942.3 1827.0 936.5C1828.7 929.7 1830.3 906.9 1832.0 888.8C1833.7 870.7 1835.3 847.0 1837.0 826.1C1838.7 805.2 1840.3 779.3 1842.0 763.3C1843.3 751.1 1844.5 737.7 1845.8 733.2C1847.1 728.7 1848.3 724.4 1849.6 724.4C1850.8 724.4 1852.1 730.4 1853.3 735.7C1855.0 742.9 1856.6 762.2 1858.3 775.9C1860.0 789.8 1861.7 807.9 1863.4 818.5C1864.6 826.2 1865.9 835.9 1867.1 837.4C1867.7 838.1 1868.2 838.7 1868.8 838.7C1869.9 838.7 1871.0 836.2 1872.1 833.6C1873.8 829.5 1875.5 812.4 1877.2 801.0C1878.9 789.8 1880.5 774.0 1882.2 765.8C1883.9 757.6 1885.5 748.4 1887.2 747.0C1888.3 746.1 1889.4 745.3 1890.5 745.3C1891.9 745.3 1893.3 750.7 1894.7 755.8C1895.5 758.9 1896.4 769.0 1897.2 770.9C1898.5 773.8 1899.7 775.9 1901.0 775.9C1903.1 775.9 1905.2 770.3 1907.3 770.3C1908.5 770.3 1909.8 774.1 1911.0 778.4C1912.3 782.8 1913.5 800.1 1914.8 811.0C1916.1 821.9 1917.3 835.5 1918.6 843.6C1920.1 853.2 1921.6 866.2 1923.1 866.2C1924.5 866.2 1926.0 858.9 1927.4 851.2C1928.6 844.6 1929.9 821.9 1931.1 811.0C1932.1 802.2 1933.1 790.4 1934.1 788.4C1935.2 786.2 1936.3 784.7 1937.4 784.7C1938.7 784.7 1939.9 792.1 1941.2 795.9C1942.4 799.6 1943.7 807.2 1944.9 807.2C1946.6 807.2 1948.2 792.7 1949.9 790.9C1951.2 789.6 1952.4 788.4 1953.7 788.4C1955.0 788.4 1956.2 793.2 1957.5 798.5C1958.7 803.6 1960.0 820.3 1961.2 833.6C1962.5 847.3 1963.7 871.3 1965.0 881.3C1965.8 887.9 1966.7 896.3 1967.5 896.3C1968.8 896.3 1970.0 884.7 1971.3 876.3C1972.5 868.2 1973.8 847.4 1975.0 843.6C1976.1 840.2 1977.2 837.4 1978.3 837.4C1979.5 837.4 1980.6 844.3 1981.8 851.2C1982.9 857.7 1984.0 874.5 1985.1 888.8C1986.3 904.8 1987.6 925.9 1988.8 945.0C1990.1 964.6 1991.3 981.8 1992.6 1005.0C1993.9 1028.2 1995.1 1062.3 1996.4 1088.0C1997.4 1108.3 1998.4 1136.9 1999.4 1145.0C2000.1 1150.4 2000.7 1155.8 2001.4 1155.8C2002.4 1155.8 2003.5 1134.8 2004.5 1133.0C2006.0 1130.5 2007.4 1130.6 2008.9 1129.0C2010.2 1127.6 2011.4 1127.0 2012.7 1124.0C2013.9 1121.0 2015.2 1094.9 2016.4 1075.5C2017.7 1055.5 2018.9 1023.1 2020.2 1000.2C2021.3 980.3 2022.4 959.0 2023.5 945.0C2024.5 932.2 2025.5 918.2 2026.5 913.9C2027.8 908.5 2029.0 903.9 2030.3 903.9C2032.4 903.9 2034.4 906.4 2036.5 906.4C2038.6 906.4 2040.7 897.6 2042.8 897.6C2044.5 897.6 2046.1 901.8 2047.8 906.4C2049.5 911.0 2051.1 929.6 2052.8 939.0C2054.2 946.9 2055.6 951.4 2057.0 960.0C2058.7 970.2 2060.3 984.6 2062.0 1000.2C2064.0 1018.9 2066.0 1043.3 2068.0 1068.0C2070.2 1094.7 2072.3 1128.5 2074.5 1156.5C2075.4 1168.1 2076.3 1179.2 2077.2 1190.0C2078.9 1210.8 2080.7 1226.8 2082.4 1250.0C2084.5 1277.7 2086.5 1320.3 2088.6 1350.0C2089.9 1368.2 2091.1 1385.3 2092.4 1400.0C2094.4 1422.8 2096.3 1440.2 2098.3 1460.0C2099.6 1473.4 2101.0 1487.2 2102.3 1500.0C2103.5 1511.5 2104.7 1524.5 2105.9 1533.3C2108.4 1551.8 2111.0 1564.7 2113.5 1577.3C2114.7 1583.1 2115.8 1589.7 2117.0 1593.0C2117.8 1595.2 2118.5 1598.0 2119.3 1598.0C2120.9 1598.0 2122.4 1597.1 2124.0 1596.0C2125.8 1594.7 2127.6 1587.6 2129.4 1580.0C2130.5 1575.4 2131.6 1565.8 2132.7 1558.4C2133.8 1550.7 2135.0 1540.9 2136.1 1534.7C2137.0 1530.0 2137.8 1525.1 2138.7 1522.9C2139.6 1520.5 2140.6 1518.0 2141.5 1518.0C2142.5 1518.0 2143.5 1524.3 2144.5 1527.0C2145.3 1529.2 2146.2 1533.0 2147.0 1533.0C2148.0 1533.0 2149.0 1524.1 2150.0 1515.0C2150.8 1507.4 2151.7 1490.7 2152.5 1470.0C2153.3 1451.0 2154.0 1405.0 2154.8 1380.0C2155.8 1348.5 2156.7 1320.7 2157.7 1300.0C2159.3 1266.4 2160.8 1241.6 2162.4 1220.0C2163.3 1207.1 2164.3 1200.6 2165.2 1186.7C2166.0 1174.8 2166.8 1154.4 2167.6 1140.0C2168.4 1125.6 2169.2 1113.3 2170.0 1100.0C2170.9 1084.5 2171.9 1069.0 2172.8 1053.8C2173.8 1037.0 2174.9 1017.5 2175.9 1004.0C2177.0 989.2 2178.2 976.4 2179.3 966.9C2180.5 956.6 2181.8 949.8 2183.0 942.0C2184.0 935.7 2185.0 926.9 2186.0 924.0C2187.2 920.6 2188.3 918.1 2189.5 917.5C2191.3 916.6 2193.2 916.0 2195.0 916.0C2196.7 916.0 2198.3 917.0 2200.0 918.5C2201.5 919.9 2203.0 932.7 2204.5 942.0C2206.1 952.1 2207.8 970.7 2209.4 979.3C2210.8 986.5 2212.1 993.1 2213.5 996.0C2214.6 998.4 2215.8 1001.0 2216.9 1001.0C2218.6 1001.0 2220.2 999.9 2221.9 998.3C2223.6 996.7 2225.2 985.4 2226.9 975.8C2228.6 966.2 2230.2 949.4 2231.9 935.6C2233.6 921.8 2235.2 903.6 2236.9 892.9C2238.2 884.7 2239.4 875.0 2240.7 872.9C2241.5 871.5 2242.4 870.3 2243.2 870.3C2244.5 870.3 2245.7 875.5 2247.0 880.4C2248.7 886.9 2250.3 905.6 2252.0 920.5C2253.7 935.4 2255.3 954.7 2257.0 970.7C2258.3 982.9 2259.5 998.0 2260.8 1005.9C2262.0 1013.6 2263.3 1023.4 2264.5 1023.4C2265.8 1023.4 2267.0 1020.5 2268.3 1015.9C2269.1 1012.9 2270.0 990.6 2270.8 980.8C2271.6 971.0 2272.5 958.5 2273.3 955.7C2274.1 952.9 2275.0 950.7 2275.8 950.7C2276.8 950.7 2277.8 956.9 2278.8 963.2C2279.9 970.1 2281.0 986.8 2282.1 1005.9C2282.9 1020.3 2283.8 1047.7 2284.6 1068.6C2285.4 1089.5 2286.3 1107.4 2287.1 1131.4C2288.1 1159.2 2289.0 1197.5 2290.0 1230.0C2291.0 1263.7 2292.0 1302.5 2293.0 1330.0C2294.0 1357.5 2295.0 1381.7 2296.0 1400.0"/>
<path stroke="#c37ae4" d="M230.2 739.9C294.5 739.6 358.8 739.6 423.1 739.6C436.6 739.6 450.2 742.8 463.7 745.7C478.4 748.8 493.0 756.2 507.7 762.6C524.6 769.9 541.6 779.1 558.5 788.0C569.8 793.9 581.1 798.9 592.4 806.6C601.4 812.7 610.5 822.5 619.5 830.3C627.4 837.1 635.3 845.9 643.2 850.6C649.4 854.3 655.6 859.1 661.8 859.1C666.3 859.1 670.8 856.5 675.3 854.0C681.5 850.6 687.7 840.2 693.9 833.7C700.7 826.6 707.4 818.3 714.2 813.4C723.2 806.8 732.3 802.1 741.3 798.2C752.6 793.3 763.9 788.6 775.2 786.3C784.2 784.5 793.3 782.3 802.3 782.3C811.3 782.3 820.3 782.9 829.3 782.9C837.8 782.9 846.2 779.3 854.7 777.9C856.5 777.6 858.2 777.1 860.0 777.1C862.1 777.1 864.2 779.5 866.3 782.1C868.4 784.7 870.4 793.1 872.5 801.0C875.0 810.7 877.6 825.7 880.1 841.1C881.8 851.3 883.4 866.0 885.1 876.4C886.8 886.7 888.4 896.2 890.1 904.0C891.8 911.7 893.4 921.1 895.1 924.0C896.8 926.9 898.5 929.6 900.2 929.6C901.9 929.6 903.5 926.2 905.2 924.0C906.9 921.7 908.5 915.3 910.2 915.3C911.5 915.3 912.7 919.0 914.0 921.5C915.2 923.9 916.5 929.5 917.7 930.3C918.3 930.7 919.0 931.1 919.6 931.1C920.2 931.1 920.9 930.2 921.5 929.6C922.8 928.3 924.0 925.2 925.3 924.0C927.8 921.6 930.3 920.2 932.8 919.0C934.9 918.0 937.0 918.0 939.1 916.5C941.2 915.1 943.2 901.9 945.3 898.9C947.0 896.5 948.6 894.4 950.3 893.9C952.8 893.2 955.4 893.6 957.9 892.8C959.6 892.2 961.2 886.7 962.9 881.5C964.6 876.3 966.2 862.9 967.9 856.4C970.0 848.1 972.1 843.8 974.2 836.3C975.9 830.4 977.5 824.1 979.2 816.2C980.5 810.3 981.7 798.4 983.0 794.9C984.7 790.4 986.3 787.9 988.0 786.2C992.2 781.7 996.3 779.7 1000.5 777.4C1008.0 773.2 1015.6 769.9 1023.1 767.5C1031.5 764.8 1039.8 763.1 1048.2 761.3C1056.6 759.5 1064.9 757.7 1073.3 756.4C1085.9 754.5 1098.4 752.7 1111.0 751.7C1127.7 750.3 1144.5 749.5 1161.2 748.6C1177.9 747.8 1194.7 747.0 1211.4 746.3C1228.1 745.7 1244.8 744.6 1261.5 744.6C1269.0 744.6 1276.6 746.7 1284.1 746.7C1291.6 746.7 1299.2 744.7 1306.7 744.5C1331.1 743.9 1355.6 743.6 1380.0 743.6C1420.0 743.6 1460.0 743.9 1500.0 744.3C1533.3 744.6 1566.7 745.2 1600.0 746.6C1613.3 747.1 1626.7 748.1 1640.0 750.8C1644.2 751.7 1648.3 755.0 1652.5 758.3C1656.7 761.7 1660.9 766.1 1665.1 773.4C1667.2 777.1 1669.3 781.7 1671.4 790.9C1673.1 798.2 1674.7 819.1 1676.4 838.6C1678.1 858.1 1679.7 892.1 1681.4 913.9C1682.9 933.1 1684.3 948.6 1685.8 965.0C1687.7 985.9 1689.5 1004.2 1691.4 1025.3C1693.5 1049.1 1695.6 1075.5 1697.7 1100.6C1699.8 1125.7 1701.9 1154.4 1704.0 1175.9C1705.7 1193.0 1707.3 1212.4 1709.0 1221.0C1710.5 1228.7 1712.0 1237.4 1713.5 1237.4C1714.9 1237.4 1716.4 1225.5 1717.8 1213.5C1719.1 1202.9 1720.3 1173.9 1721.6 1150.8C1722.8 1128.3 1724.1 1100.6 1725.3 1075.5C1726.6 1049.7 1727.8 1017.2 1729.1 998.0C1730.8 972.8 1732.4 952.4 1734.1 939.0C1736.2 922.1 1738.3 911.3 1740.4 901.4C1743.7 885.7 1747.1 874.3 1750.4 863.7C1753.8 853.0 1757.1 844.5 1760.5 836.1C1763.4 828.9 1766.3 819.5 1769.2 816.0C1771.7 813.0 1774.3 809.8 1776.8 809.8C1778.9 809.8 1781.0 811.5 1783.1 813.5C1786.0 816.2 1788.9 826.1 1791.8 838.6C1793.5 845.9 1795.2 862.6 1796.9 876.3C1799.0 892.9 1801.0 913.0 1803.1 931.5C1804.8 946.4 1806.4 963.5 1808.1 976.6C1809.0 983.4 1809.8 988.5 1810.7 995.2C1812.4 1008.0 1814.0 1026.0 1815.7 1037.8C1816.9 1046.5 1818.2 1056.3 1819.4 1060.4C1820.5 1064.0 1821.6 1068.0 1822.7 1068.0C1824.1 1068.0 1825.6 1061.7 1827.0 1055.4C1828.7 1048.0 1830.3 1024.9 1832.0 1007.7C1833.7 990.5 1835.3 971.4 1837.0 951.6C1838.7 931.8 1840.3 904.0 1842.0 888.8C1843.3 877.3 1844.5 865.5 1845.8 861.2C1846.9 857.4 1848.0 853.7 1849.1 853.7C1850.5 853.7 1851.9 860.2 1853.3 866.2C1855.0 873.3 1856.6 893.1 1858.3 906.4C1860.0 919.9 1861.7 937.7 1863.4 946.5C1864.9 954.3 1866.4 964.1 1867.9 964.1C1869.3 964.1 1870.7 961.9 1872.1 959.1C1873.8 955.8 1875.5 937.4 1877.2 926.4C1878.9 915.6 1880.5 900.6 1882.2 893.8C1883.9 887.0 1885.5 879.9 1887.2 878.8C1888.3 878.1 1889.4 877.5 1890.5 877.5C1891.9 877.5 1893.3 881.8 1894.7 886.3C1895.5 889.0 1896.4 899.2 1897.2 901.4C1898.5 904.8 1899.7 907.6 1901.0 907.6C1903.1 907.6 1905.2 903.9 1907.3 903.9C1908.5 903.9 1909.8 907.4 1911.0 911.4C1912.3 915.5 1913.5 931.5 1914.8 941.5C1916.1 951.5 1917.3 964.7 1918.6 971.6C1920.1 979.8 1921.6 990.2 1923.1 990.2C1924.4 990.2 1925.7 982.4 1927.0 975.0C1928.0 969.5 1928.9 954.3 1929.9 946.5C1931.1 936.5 1932.4 924.7 1933.6 921.4C1934.7 918.5 1935.8 915.9 1936.9 915.9C1938.3 915.9 1939.8 922.7 1941.2 926.4C1942.4 929.6 1943.7 936.5 1944.9 936.5C1946.6 936.5 1948.2 924.4 1949.9 922.7C1951.2 921.4 1952.4 920.2 1953.7 920.2C1955.0 920.2 1956.2 924.2 1957.5 929.0C1958.7 933.7 1960.0 954.3 1961.2 968.0C1962.5 982.1 1963.7 1005.3 1965.0 1012.7C1965.8 1017.5 1966.7 1022.8 1967.5 1022.8C1968.8 1022.8 1970.0 1014.5 1971.3 1007.7C1972.5 1001.1 1973.8 981.9 1975.0 977.6C1976.1 973.7 1977.2 970.1 1978.3 970.1C1979.5 970.1 1980.6 976.2 1981.8 982.6C1982.9 988.6 1984.0 1006.1 1985.1 1020.3C1986.3 1036.2 1987.6 1056.2 1988.8 1075.5C1990.1 1095.3 1991.3 1117.3 1992.6 1138.2C1993.9 1159.1 1995.1 1178.0 1996.4 1201.0C1997.5 1220.4 1998.5 1255.5 1999.6 1265.0C2000.2 1270.4 2000.8 1276.0 2001.4 1276.0C2002.2 1276.0 2003.1 1257.8 2003.9 1256.2C2005.6 1253.0 2007.2 1253.1 2008.9 1251.2C2010.2 1249.7 2011.4 1249.2 2012.7 1246.1C2013.9 1243.1 2015.2 1219.6 2016.4 1201.0C2017.7 1181.9 2018.9 1145.8 2020.2 1125.7C2021.5 1105.6 2022.7 1086.8 2024.0 1075.5C2025.2 1064.5 2026.5 1052.6 2027.7 1050.4C2029.0 1048.2 2030.2 1046.6 2031.5 1046.6C2033.2 1046.6 2034.8 1049.1 2036.5 1049.1C2038.6 1049.1 2040.7 1042.9 2042.8 1042.9C2044.5 1042.9 2046.1 1046.4 2047.8 1050.4C2049.5 1054.4 2051.1 1069.6 2052.8 1080.5C2054.9 1094.2 2057.0 1111.6 2059.1 1125.7C2060.9 1137.8 2062.7 1148.4 2064.5 1160.0C2066.0 1169.9 2067.6 1176.4 2069.1 1190.0C2070.6 1203.0 2072.0 1229.4 2073.5 1250.0C2075.8 1282.2 2078.1 1314.6 2080.4 1350.0C2081.4 1365.9 2082.5 1384.1 2083.5 1400.0C2085.8 1435.4 2088.1 1471.9 2090.4 1500.0C2092.8 1529.8 2095.3 1553.3 2097.7 1577.0C2099.9 1598.1 2102.0 1620.1 2104.2 1636.0C2106.1 1650.2 2108.1 1659.4 2110.0 1672.0C2111.1 1679.2 2112.2 1688.3 2113.3 1694.6C2114.2 1699.8 2115.1 1704.9 2116.0 1708.0C2117.8 1714.4 2119.7 1722.0 2121.5 1722.0C2123.3 1722.0 2125.2 1714.0 2127.0 1708.0C2128.0 1704.6 2129.1 1698.6 2130.1 1694.6C2131.5 1689.1 2133.0 1685.8 2134.4 1680.0C2135.5 1675.4 2136.7 1666.0 2137.8 1663.3C2138.9 1660.6 2140.0 1658.0 2141.1 1658.0C2142.8 1658.0 2144.5 1675.5 2146.2 1675.5C2147.2 1675.5 2148.2 1667.7 2149.2 1662.0C2150.1 1656.6 2151.1 1648.2 2152.0 1640.0C2153.1 1630.3 2154.2 1620.3 2155.3 1606.6C2155.9 1598.7 2156.6 1586.8 2157.2 1577.3C2157.9 1567.3 2158.5 1559.2 2159.2 1548.0C2159.9 1535.6 2160.7 1519.8 2161.4 1504.0C2162.0 1490.4 2162.7 1479.9 2163.3 1460.0C2163.7 1446.4 2164.2 1417.8 2164.6 1400.0C2165.3 1369.9 2166.1 1339.8 2166.8 1320.0C2167.9 1289.3 2169.1 1277.4 2170.2 1249.0C2170.7 1235.6 2171.3 1210.9 2171.8 1201.3C2173.0 1179.1 2174.3 1172.4 2175.5 1157.3C2176.7 1143.0 2177.8 1125.1 2179.0 1113.3C2180.8 1095.4 2182.5 1076.8 2184.3 1069.3C2185.8 1063.1 2187.2 1057.2 2188.7 1056.5C2190.6 1055.5 2192.6 1055.0 2194.5 1055.0C2196.5 1055.0 2198.4 1055.7 2200.4 1057.0C2201.9 1058.0 2203.3 1068.8 2204.8 1076.7C2206.3 1084.6 2207.7 1097.3 2209.2 1106.0C2210.7 1114.7 2212.1 1127.2 2213.6 1129.5C2215.1 1131.8 2216.5 1133.5 2218.0 1133.5C2220.0 1133.5 2221.9 1128.2 2223.9 1122.1C2225.4 1117.5 2226.8 1102.5 2228.3 1091.3C2229.8 1080.1 2231.2 1065.1 2232.7 1054.7C2234.1 1044.7 2235.5 1035.9 2236.9 1028.5C2238.2 1021.8 2239.4 1012.9 2240.7 1010.9C2241.5 1009.6 2242.4 1008.4 2243.2 1008.4C2244.5 1008.4 2245.7 1013.6 2247.0 1018.4C2248.7 1024.8 2250.3 1041.7 2252.0 1056.1C2253.7 1070.5 2255.3 1090.3 2257.0 1106.3C2258.3 1118.5 2259.5 1133.5 2260.8 1141.4C2262.0 1149.1 2263.3 1159.0 2264.5 1159.0C2265.8 1159.0 2267.0 1156.0 2268.3 1151.4C2269.1 1148.4 2270.0 1128.3 2270.8 1118.8C2271.6 1109.3 2272.5 1097.6 2273.3 1093.7C2274.0 1090.6 2274.6 1087.4 2275.3 1087.4C2276.5 1087.4 2277.6 1093.0 2278.8 1098.7C2279.9 1104.1 2281.0 1117.6 2282.1 1131.4C2283.4 1147.8 2284.7 1174.3 2286.0 1200.0C2287.3 1226.3 2288.7 1258.0 2290.0 1290.0C2291.2 1318.0 2292.3 1351.1 2293.5 1380.0C2294.3 1400.7 2295.2 1420.6 2296.0 1440.0"/>
<path stroke="#de9d00" d="M230.2 882.1C300.1 881.8 370.1 881.8 440.0 881.8C454.7 881.8 469.3 885.1 484.0 887.9C497.6 890.5 511.1 895.1 524.7 899.7C536.0 903.5 547.2 908.5 558.5 913.3C569.8 918.1 581.1 921.5 592.4 928.5C600.3 933.4 608.2 944.1 616.1 950.5C624.0 956.9 631.9 963.3 639.8 967.4C646.6 970.9 653.3 975.9 660.1 975.9C664.6 975.9 669.1 973.2 673.6 970.8C680.4 967.2 687.1 956.6 693.9 950.5C700.7 944.4 707.4 937.9 714.2 933.6C723.2 927.9 732.3 923.6 741.3 920.0C752.6 915.6 763.9 911.3 775.2 909.2C784.2 907.5 793.3 905.5 802.3 905.5C811.3 905.5 820.3 907.2 829.3 907.2C837.8 907.2 846.2 904.1 854.7 904.1C856.8 904.1 858.9 906.2 861.0 907.6C862.8 908.9 864.5 910.1 866.3 912.6C868.4 915.7 870.4 926.5 872.5 934.0C874.3 940.7 876.2 946.5 878.0 955.0C879.9 964.1 881.9 979.5 883.8 990.0C885.5 999.3 887.2 1008.4 888.9 1015.4C890.6 1022.2 892.2 1029.1 893.9 1032.9C896.0 1037.5 898.1 1042.5 900.2 1043.0C901.7 1043.3 903.2 1043.5 904.7 1043.5C906.1 1043.5 907.5 1037.4 908.9 1037.4C910.3 1037.4 911.8 1038.6 913.2 1040.4C914.3 1041.7 915.4 1050.3 916.5 1053.0C918.2 1057.1 919.8 1061.1 921.5 1061.8C923.2 1062.5 924.8 1063.0 926.5 1063.0C928.2 1063.0 929.8 1054.0 931.5 1051.7C933.6 1048.8 935.7 1048.2 937.8 1045.5C939.9 1042.9 942.0 1039.0 944.1 1034.2C945.5 1031.0 946.9 1021.8 948.3 1021.6C951.5 1021.3 954.7 1021.5 957.9 1021.2C959.6 1021.0 961.2 1016.7 962.9 1012.9C964.2 1009.9 965.4 1002.4 966.7 999.1C968.8 993.6 970.8 992.4 972.9 986.6C974.2 983.1 975.4 976.8 976.7 970.7C978.1 963.8 979.6 953.3 981.0 946.2C982.5 938.8 984.0 930.1 985.5 926.6C988.0 920.9 990.5 917.3 993.0 915.5C998.9 911.3 1004.7 910.0 1010.6 907.9C1019.0 905.0 1027.3 902.3 1035.7 900.5C1044.1 898.8 1052.4 897.1 1060.8 896.4C1077.5 894.9 1094.3 894.3 1111.0 893.5C1127.7 892.6 1144.5 891.9 1161.2 891.2C1177.9 890.6 1194.7 890.1 1211.4 889.6C1228.1 889.2 1244.8 888.4 1261.5 888.4C1269.0 888.4 1276.6 891.5 1284.1 891.5C1286.6 891.5 1289.2 888.8 1291.7 888.8C1294.2 888.8 1296.7 891.4 1299.2 891.4C1303.4 891.4 1307.5 889.4 1311.7 889.3C1334.5 888.6 1357.2 888.4 1380.0 888.4C1420.0 888.4 1460.0 888.6 1500.0 888.8C1533.3 889.0 1566.7 889.4 1600.0 890.1C1613.3 890.3 1626.7 890.4 1640.0 891.3C1644.2 891.6 1648.3 893.6 1652.5 895.1C1656.7 896.7 1660.9 898.0 1665.1 901.4C1667.6 903.4 1670.1 906.8 1672.6 913.9C1674.3 918.7 1675.9 936.3 1677.6 951.6C1678.9 963.2 1680.1 976.3 1681.4 995.0C1681.9 1002.9 1682.5 1016.9 1683.0 1025.3C1685.0 1056.5 1686.9 1076.3 1688.9 1100.6C1691.0 1126.5 1693.1 1152.9 1695.2 1175.9C1697.7 1203.3 1700.2 1230.4 1702.7 1251.2C1704.8 1268.7 1706.9 1287.2 1709.0 1296.3C1710.4 1302.5 1711.9 1310.1 1713.3 1310.1C1714.8 1310.1 1716.3 1300.0 1717.8 1288.8C1719.1 1279.3 1720.3 1249.2 1721.6 1226.1C1722.8 1203.6 1724.1 1172.3 1725.3 1150.8C1727.0 1121.7 1728.6 1093.1 1730.3 1075.5C1732.4 1053.4 1734.5 1033.6 1736.6 1025.3C1739.5 1013.7 1742.5 1010.2 1745.4 1003.0C1747.9 996.8 1750.4 992.7 1752.9 985.0C1754.6 979.8 1756.3 969.7 1758.0 964.1C1760.5 955.9 1763.0 948.9 1765.5 944.0C1767.6 939.8 1769.7 935.3 1771.8 934.0C1773.5 933.0 1775.1 932.0 1776.8 932.0C1779.3 932.0 1781.8 934.8 1784.3 937.7C1786.4 940.2 1788.5 945.8 1790.6 953.0C1792.7 960.2 1794.8 975.1 1796.9 990.0C1799.0 1004.7 1801.0 1026.3 1803.1 1045.4C1805.2 1064.8 1807.3 1087.4 1809.4 1105.6C1811.5 1123.8 1813.6 1144.6 1815.7 1155.8C1817.8 1167.0 1819.9 1180.9 1822.0 1180.9C1824.1 1180.9 1826.1 1172.4 1828.2 1163.3C1830.3 1154.0 1832.4 1122.3 1834.5 1100.6C1836.6 1078.9 1838.7 1051.3 1840.8 1032.8C1842.5 1018.1 1844.1 1000.4 1845.8 995.2C1847.1 991.3 1848.3 987.5 1849.6 987.5C1851.3 987.5 1852.9 997.2 1854.6 1005.2C1856.3 1013.2 1857.9 1031.7 1859.6 1042.9C1861.3 1054.1 1862.9 1067.5 1864.6 1073.0C1865.9 1077.2 1867.1 1081.8 1868.4 1081.8C1870.1 1081.8 1871.7 1076.0 1873.4 1070.5C1875.1 1065.0 1876.7 1050.4 1878.4 1040.3C1880.1 1030.3 1881.7 1015.6 1883.4 1010.2C1885.1 1004.7 1886.8 999.6 1888.5 998.9C1889.5 998.5 1890.5 998.2 1891.5 998.2C1892.8 998.2 1894.2 1006.6 1895.5 1010.2C1896.9 1013.9 1898.3 1020.3 1899.7 1020.3C1902.2 1020.3 1904.8 1016.5 1907.3 1016.5C1908.5 1016.5 1909.8 1020.8 1911.0 1025.3C1912.3 1029.9 1913.5 1045.4 1914.8 1055.4C1916.1 1065.4 1917.3 1078.8 1918.6 1085.5C1920.1 1093.4 1921.6 1103.1 1923.1 1103.1C1924.5 1103.1 1926.0 1093.8 1927.4 1085.5C1928.6 1078.4 1929.9 1059.3 1931.1 1050.4C1932.1 1043.2 1933.1 1034.2 1934.1 1032.8C1935.2 1031.3 1936.3 1030.3 1937.4 1030.3C1938.7 1030.3 1939.9 1037.1 1941.2 1040.3C1942.4 1043.4 1943.7 1049.1 1944.9 1049.1C1946.6 1049.1 1948.2 1037.0 1949.9 1035.3C1951.2 1034.0 1952.4 1032.8 1953.7 1032.8C1955.0 1032.8 1956.2 1037.7 1957.5 1042.9C1958.7 1047.9 1960.0 1063.0 1961.2 1075.5C1962.5 1088.3 1963.7 1113.4 1965.0 1120.7C1965.8 1125.5 1966.7 1130.7 1967.5 1130.7C1968.8 1130.7 1970.0 1120.8 1971.3 1113.1C1972.5 1105.6 1973.8 1084.3 1975.0 1080.5C1976.1 1077.1 1977.2 1074.2 1978.3 1074.2C1979.5 1074.2 1980.6 1079.5 1981.8 1085.5C1982.9 1091.1 1984.0 1111.6 1985.1 1125.7C1986.3 1141.5 1987.6 1157.5 1988.8 1175.9C1990.1 1194.8 1991.3 1217.7 1992.6 1238.6C1993.9 1259.5 1995.1 1283.9 1996.4 1301.4C1997.2 1312.9 1998.1 1330.4 1998.9 1331.5C1999.6 1332.4 2000.3 1333.0 2001.0 1333.0C2002.0 1333.0 2002.9 1324.0 2003.9 1324.0C2005.2 1324.0 2006.4 1333.3 2007.7 1336.5C2008.9 1339.6 2010.2 1344.0 2011.4 1344.0C2012.7 1344.0 2013.9 1335.6 2015.2 1326.5C2016.5 1317.4 2017.7 1286.8 2019.0 1263.7C2020.2 1241.2 2021.5 1208.8 2022.7 1188.4C2024.0 1167.5 2025.2 1144.5 2026.5 1135.7C2027.8 1126.9 2029.0 1118.1 2030.3 1118.1C2032.4 1118.1 2034.4 1120.7 2036.5 1120.7C2038.6 1120.7 2040.7 1116.9 2042.8 1116.9C2044.5 1116.9 2046.1 1121.1 2047.8 1125.7C2049.5 1130.3 2051.1 1148.7 2052.8 1158.3C2054.9 1170.2 2056.9 1177.1 2059.0 1190.0C2061.4 1205.2 2063.9 1228.3 2066.3 1250.0C2069.7 1280.3 2073.1 1312.9 2076.5 1350.0C2077.9 1365.3 2079.3 1381.8 2080.7 1400.0C2083.0 1429.8 2085.3 1474.0 2087.6 1500.0C2090.4 1531.7 2093.2 1551.5 2096.0 1577.0C2098.2 1596.8 2100.3 1621.0 2102.5 1636.0C2105.2 1654.4 2107.8 1671.4 2110.5 1680.0C2112.3 1685.9 2114.2 1689.9 2116.0 1693.0C2117.5 1695.6 2119.1 1699.0 2120.6 1699.0C2122.3 1699.0 2123.9 1695.4 2125.6 1691.5C2127.3 1687.6 2128.9 1674.8 2130.6 1663.9C2131.9 1655.6 2133.1 1639.7 2134.4 1633.8C2135.7 1627.9 2136.9 1622.6 2138.2 1621.2C2138.6 1620.7 2139.1 1620.2 2139.5 1620.2C2140.7 1620.2 2142.0 1638.9 2143.2 1641.3C2144.2 1643.3 2145.3 1645.0 2146.3 1645.0C2147.8 1645.0 2149.2 1641.8 2150.7 1636.3C2151.5 1633.2 2152.4 1612.5 2153.2 1601.2C2154.3 1585.8 2155.5 1573.1 2156.6 1556.5C2157.9 1538.0 2159.1 1514.6 2160.4 1493.7C2161.7 1472.8 2162.9 1459.6 2164.2 1431.0C2165.0 1413.7 2165.7 1377.0 2166.5 1355.7C2167.5 1327.0 2168.6 1296.6 2169.6 1282.0C2170.8 1264.5 2172.1 1257.7 2173.3 1245.3C2174.5 1233.2 2175.7 1219.7 2176.9 1208.7C2178.4 1195.2 2179.8 1182.1 2181.3 1172.0C2182.5 1163.5 2183.8 1153.3 2185.0 1150.0C2186.2 1146.7 2187.5 1143.9 2188.7 1143.5C2190.8 1142.8 2192.9 1142.5 2195.0 1142.5C2197.3 1142.5 2199.6 1143.0 2201.9 1144.0C2203.4 1144.7 2204.8 1156.6 2206.3 1164.7C2207.8 1172.8 2209.2 1184.7 2210.7 1194.0C2211.9 1201.6 2213.1 1212.5 2214.3 1216.0C2215.7 1220.1 2217.1 1224.0 2218.5 1224.0C2220.3 1224.0 2222.1 1220.2 2223.9 1216.0C2225.3 1212.8 2226.6 1203.6 2228.0 1196.0C2229.6 1187.2 2231.1 1177.5 2232.7 1165.0C2234.2 1153.3 2235.6 1128.8 2237.1 1120.7C2238.8 1111.3 2240.5 1101.6 2242.2 1101.6C2243.8 1101.6 2245.4 1106.4 2247.0 1111.3C2248.7 1116.4 2250.3 1132.2 2252.0 1143.9C2253.7 1155.6 2255.3 1169.9 2257.0 1181.6C2258.3 1190.5 2259.5 1198.3 2260.8 1206.7C2262.0 1214.9 2263.3 1231.4 2264.5 1231.4C2265.8 1231.4 2267.2 1222.6 2268.5 1215.0C2269.7 1208.1 2270.9 1190.7 2272.1 1181.6C2272.9 1175.3 2273.8 1165.2 2274.6 1165.2C2275.4 1165.2 2276.2 1172.6 2277.0 1180.0C2277.9 1188.0 2278.7 1209.8 2279.6 1230.2C2280.4 1249.8 2281.3 1285.3 2282.1 1305.5C2283.4 1336.2 2284.6 1360.4 2285.9 1380.8C2287.1 1400.6 2288.4 1422.2 2289.6 1431.0C2290.4 1436.9 2291.3 1440.3 2292.1 1443.5C2293.4 1448.4 2294.7 1452.8 2296.0 1455.0"/>
<path stroke="#00cccc" d="M230.2 1011.4C300.1 1010.8 370.1 1010.8 440.0 1010.8C454.7 1010.8 469.3 1013.7 484.0 1016.5C497.6 1019.1 511.1 1026.2 524.7 1031.8C536.0 1036.4 547.2 1041.9 558.5 1047.0C569.2 1051.8 580.0 1055.2 590.7 1061.5C598.0 1065.8 605.4 1072.1 612.7 1079.1C619.5 1085.5 626.2 1095.5 633.0 1102.8C638.6 1108.9 644.3 1116.2 649.9 1119.8C653.9 1122.3 657.8 1125.5 661.8 1125.5C665.2 1125.5 668.5 1121.4 671.9 1118.1C677.0 1113.0 682.1 1100.8 687.2 1092.7C692.8 1083.8 698.5 1073.8 704.1 1067.3C710.9 1059.5 717.6 1053.5 724.4 1048.7C731.2 1043.9 737.9 1038.8 744.7 1036.8C754.9 1033.8 765.0 1032.3 775.2 1031.1C783.1 1030.2 791.0 1029.0 798.9 1029.0C809.0 1029.0 819.2 1035.1 829.3 1035.1C838.3 1035.1 847.4 1033.4 856.4 1033.4C857.9 1033.4 859.5 1033.6 861.0 1034.0C862.8 1034.4 864.5 1038.1 866.3 1041.6C868.4 1045.7 870.4 1053.1 872.5 1062.9C874.2 1071.0 875.9 1087.5 877.6 1100.6C879.3 1113.4 880.9 1127.3 882.6 1140.7C884.3 1154.1 885.9 1171.2 887.6 1180.9C888.9 1188.3 890.1 1196.4 891.4 1198.5C892.6 1200.5 893.9 1202.2 895.1 1202.2C896.8 1202.2 898.5 1199.7 900.2 1199.7C901.7 1199.7 903.2 1203.5 904.7 1203.5C905.9 1203.5 907.0 1199.7 908.2 1198.5C909.3 1197.4 910.3 1195.9 911.4 1195.9C912.7 1195.9 913.9 1200.7 915.2 1203.5C916.5 1206.3 917.7 1213.0 919.0 1213.0C920.2 1213.0 921.5 1208.6 922.7 1207.2C924.0 1205.8 925.2 1204.0 926.5 1204.0C928.2 1204.0 929.8 1205.1 931.5 1206.0C933.8 1207.2 936.0 1211.5 938.3 1211.5C940.2 1211.5 942.2 1207.9 944.1 1204.7C945.8 1202.0 947.4 1191.4 949.1 1191.4C952.0 1191.4 955.0 1193.9 957.9 1193.9C959.4 1193.9 960.9 1190.1 962.4 1185.9C963.8 1181.9 965.3 1166.6 966.7 1158.3C968.8 1146.3 970.8 1136.2 972.9 1125.7C974.6 1117.1 976.3 1111.5 978.0 1100.6C979.2 1092.7 980.5 1073.0 981.7 1068.0C983.4 1061.3 985.0 1057.9 986.7 1055.4C989.6 1051.0 992.6 1048.4 995.5 1046.6C1000.5 1043.5 1005.6 1042.2 1010.6 1040.3C1019.0 1037.1 1027.3 1033.5 1035.7 1031.6C1048.2 1028.7 1060.8 1026.9 1073.3 1025.3C1085.9 1023.7 1098.4 1022.6 1111.0 1021.5C1127.7 1020.1 1144.5 1018.3 1161.2 1017.8C1169.6 1017.6 1177.9 1017.3 1186.3 1017.3C1194.7 1017.3 1203.0 1018.3 1211.4 1018.3C1223.9 1018.3 1236.5 1015.8 1249.0 1015.8C1260.7 1015.8 1272.4 1018.3 1284.1 1018.3C1291.6 1018.3 1299.2 1016.0 1306.7 1015.8C1316.7 1015.5 1326.8 1015.3 1336.8 1015.3C1351.2 1015.3 1365.6 1015.6 1380.0 1015.8C1420.0 1016.2 1460.0 1016.4 1500.0 1017.0C1533.3 1017.5 1566.7 1018.1 1600.0 1019.5C1613.3 1020.1 1626.7 1020.7 1640.0 1022.8C1643.3 1023.3 1646.7 1024.8 1650.0 1026.5C1652.5 1027.8 1655.1 1031.2 1657.6 1032.8C1660.1 1034.4 1662.6 1034.7 1665.1 1036.6C1667.2 1038.2 1669.3 1041.1 1671.4 1045.4C1673.1 1048.8 1674.7 1054.1 1676.4 1062.9C1677.7 1069.6 1678.9 1083.7 1680.2 1100.6C1681.4 1117.1 1682.7 1147.6 1683.9 1175.9C1685.2 1205.0 1686.4 1241.1 1687.7 1276.3C1688.9 1310.6 1690.2 1345.5 1691.4 1385.0C1692.3 1412.8 1693.1 1450.9 1694.0 1475.7C1695.2 1510.9 1696.5 1542.9 1697.7 1563.5C1699.4 1591.3 1701.0 1612.2 1702.7 1626.3C1704.4 1640.7 1706.1 1652.6 1707.8 1658.9C1708.9 1662.9 1709.9 1667.7 1711.0 1667.7C1712.3 1667.7 1713.5 1662.5 1714.8 1656.4C1716.0 1650.8 1717.1 1632.3 1718.3 1613.7C1719.4 1596.2 1720.5 1569.1 1721.6 1538.4C1722.4 1515.1 1723.3 1481.9 1724.1 1450.6C1724.9 1419.3 1725.8 1377.1 1726.6 1350.0C1727.8 1309.9 1729.1 1269.4 1730.3 1251.2C1732.0 1226.1 1733.7 1212.3 1735.4 1201.0C1737.1 1189.9 1738.7 1182.6 1740.4 1175.9C1741.6 1170.9 1742.9 1163.3 1744.1 1163.3C1746.2 1163.3 1748.3 1165.8 1750.4 1165.8C1752.1 1165.8 1753.7 1158.4 1755.4 1150.8C1756.3 1146.9 1757.1 1131.6 1758.0 1130.7C1759.7 1129.0 1761.3 1129.8 1763.0 1128.2C1764.2 1127.0 1765.5 1118.4 1766.7 1110.6C1767.5 1105.3 1768.4 1092.2 1769.2 1088.0C1770.5 1081.7 1771.7 1077.1 1773.0 1075.5C1774.7 1073.4 1776.3 1071.7 1778.0 1071.7C1780.1 1071.7 1782.2 1074.5 1784.3 1078.0C1786.0 1080.8 1787.6 1091.2 1789.3 1100.6C1791.0 1110.0 1792.6 1124.0 1794.3 1138.2C1796.0 1152.7 1797.7 1169.6 1799.4 1188.4C1801.1 1206.8 1802.7 1228.6 1804.4 1251.2C1806.1 1273.8 1807.7 1298.9 1809.4 1325.0C1810.7 1344.8 1811.9 1370.6 1813.2 1387.8C1814.4 1404.5 1815.7 1421.6 1816.9 1430.5C1818.0 1438.5 1819.1 1445.5 1820.2 1448.1C1821.0 1449.9 1821.7 1451.8 1822.5 1451.8C1823.6 1451.8 1824.6 1446.1 1825.7 1440.5C1827.0 1433.9 1828.2 1417.3 1829.5 1400.0C1830.5 1386.4 1831.5 1364.7 1832.5 1345.0C1833.7 1322.0 1834.8 1292.3 1836.0 1270.0C1837.6 1239.5 1839.2 1203.5 1840.8 1188.4C1842.5 1172.6 1844.1 1160.1 1845.8 1155.8C1847.1 1152.5 1848.3 1149.5 1849.6 1149.5C1850.8 1149.5 1852.1 1156.7 1853.3 1163.3C1855.0 1172.2 1856.6 1196.9 1858.3 1213.5C1860.0 1230.4 1861.7 1251.0 1863.4 1263.7C1864.6 1272.9 1865.9 1284.9 1867.1 1286.3C1867.7 1287.0 1868.3 1287.5 1868.9 1287.5C1870.4 1287.5 1871.9 1278.9 1873.4 1271.2C1875.1 1262.6 1876.7 1241.9 1878.4 1226.1C1880.1 1210.3 1881.7 1189.8 1883.4 1175.9C1884.7 1165.3 1885.9 1151.7 1887.2 1148.3C1888.5 1144.9 1889.7 1142.0 1891.0 1142.0C1892.2 1142.0 1893.5 1148.5 1894.7 1155.8C1895.8 1162.3 1896.9 1179.9 1898.0 1201.0C1898.8 1217.0 1899.7 1254.9 1900.5 1276.3C1901.1 1291.7 1901.7 1317.0 1902.3 1317.0C1903.1 1317.0 1904.0 1292.8 1904.8 1276.3C1905.6 1259.8 1906.5 1220.4 1907.3 1213.5C1908.1 1206.6 1909.0 1201.0 1909.8 1201.0C1910.6 1201.0 1911.5 1212.6 1912.3 1221.0C1913.6 1233.8 1914.8 1263.1 1916.1 1276.3C1917.3 1289.2 1918.6 1301.6 1919.8 1306.4C1920.6 1309.6 1921.5 1313.0 1922.3 1313.0C1923.6 1313.0 1924.8 1300.4 1926.1 1288.8C1927.4 1277.2 1928.6 1238.3 1929.9 1226.1C1931.1 1214.3 1932.4 1204.1 1933.6 1201.0C1934.7 1198.3 1935.8 1195.9 1936.9 1195.9C1938.3 1195.9 1939.8 1203.5 1941.2 1208.5C1942.2 1212.0 1943.2 1221.0 1944.2 1221.0C1946.1 1221.0 1948.0 1213.5 1949.9 1213.5C1951.2 1213.5 1952.4 1214.6 1953.7 1216.0C1955.0 1217.4 1956.2 1223.5 1957.5 1231.1C1958.7 1238.5 1960.0 1259.0 1961.2 1276.3C1962.5 1294.1 1963.7 1319.5 1965.0 1339.0C1965.8 1351.8 1966.7 1368.9 1967.5 1375.3C1968.8 1385.0 1970.0 1394.1 1971.3 1394.1C1972.5 1394.1 1973.8 1388.8 1975.0 1382.8C1975.9 1378.6 1976.7 1358.7 1977.6 1355.2C1978.4 1351.8 1979.3 1348.9 1980.1 1348.9C1980.9 1348.9 1981.8 1353.5 1982.6 1357.7C1983.4 1361.9 1984.3 1373.2 1985.1 1380.3C1985.9 1387.4 1986.8 1398.8 1987.6 1400.4C1988.9 1402.8 1990.1 1402.5 1991.4 1404.2C1992.4 1405.6 1993.4 1406.4 1994.4 1410.4C1995.1 1413.0 1995.7 1437.2 1996.4 1450.6C1997.2 1467.3 1998.1 1487.1 1998.9 1500.8C2000.1 1521.0 2001.4 1533.7 2002.6 1551.0C2003.5 1563.2 2004.3 1576.3 2005.2 1588.6C2006.0 1600.5 2006.9 1618.2 2007.7 1623.7C2008.4 1628.1 2009.0 1632.5 2009.7 1632.5C2010.7 1632.5 2011.7 1627.6 2012.7 1621.2C2013.5 1615.9 2014.4 1593.6 2015.2 1576.1C2016.0 1558.6 2016.9 1531.4 2017.7 1513.3C2018.8 1489.3 2019.9 1467.2 2021.0 1450.6C2022.0 1435.5 2023.0 1417.9 2024.0 1412.9C2025.2 1406.7 2026.5 1401.6 2027.7 1401.6C2028.8 1401.6 2029.9 1407.6 2031.0 1415.4C2031.8 1421.3 2032.7 1445.0 2033.5 1463.1C2034.3 1481.2 2035.2 1508.0 2036.0 1525.9C2036.9 1545.9 2037.9 1578.0 2038.8 1578.0C2039.5 1578.0 2040.3 1571.9 2041.0 1565.0C2041.6 1559.3 2042.2 1540.9 2042.8 1525.9C2043.6 1505.0 2044.5 1473.4 2045.3 1450.6C2046.1 1427.8 2047.0 1400.5 2047.8 1387.8C2048.9 1371.0 2050.0 1356.3 2051.1 1352.7C2051.9 1350.0 2052.8 1347.7 2053.6 1347.7C2054.6 1347.7 2055.6 1352.3 2056.6 1357.7C2057.6 1363.1 2058.6 1385.7 2059.6 1400.4C2060.7 1416.6 2061.8 1440.2 2062.9 1450.6C2064.1 1462.3 2065.4 1469.5 2066.6 1475.7C2068.3 1484.3 2070.0 1486.6 2071.7 1495.8C2073.4 1504.8 2075.0 1525.1 2076.7 1538.4C2078.4 1551.7 2080.0 1562.4 2081.7 1576.1C2083.4 1589.8 2085.0 1608.0 2086.7 1621.2C2088.4 1634.4 2090.0 1648.2 2091.7 1656.4C2093.2 1664.0 2094.8 1672.0 2096.3 1674.0C2097.5 1675.5 2098.6 1676.8 2099.8 1676.8C2101.3 1676.8 2102.8 1669.0 2104.3 1663.9C2106.0 1658.3 2107.6 1651.0 2109.3 1643.0C2110.3 1638.1 2111.4 1631.2 2112.4 1626.1C2113.3 1621.8 2114.1 1615.0 2115.0 1614.2C2116.1 1613.1 2117.3 1612.5 2118.4 1612.5C2119.5 1612.5 2120.6 1621.0 2121.7 1621.0C2122.8 1621.0 2124.0 1616.5 2125.1 1609.2C2125.7 1605.6 2126.2 1586.6 2126.8 1575.3C2127.4 1564.0 2127.9 1547.4 2128.5 1541.5C2129.3 1532.8 2130.2 1527.1 2131.0 1524.6C2131.9 1522.0 2132.7 1522.1 2133.6 1519.5C2134.4 1517.0 2135.3 1508.7 2136.1 1504.3C2137.0 1499.8 2137.8 1493.4 2138.7 1492.4C2139.5 1491.4 2140.4 1490.7 2141.2 1490.7C2142.0 1490.7 2142.9 1501.2 2143.7 1507.7C2144.6 1514.4 2145.4 1531.3 2146.3 1531.3C2147.1 1531.3 2148.0 1528.6 2148.8 1524.6C2149.4 1521.9 2149.9 1510.1 2150.5 1499.2C2151.3 1483.8 2152.1 1448.3 2152.9 1431.0C2154.1 1404.3 2155.4 1386.5 2156.6 1368.2C2157.9 1349.4 2159.1 1329.2 2160.4 1318.0C2161.7 1306.8 2162.9 1295.3 2164.2 1292.9C2165.3 1290.8 2166.3 1289.2 2167.4 1289.2C2168.4 1289.2 2169.4 1301.5 2170.4 1310.5C2171.2 1318.0 2172.1 1339.1 2172.9 1340.6C2173.7 1342.1 2174.6 1343.1 2175.4 1343.1C2176.3 1343.1 2177.1 1329.8 2178.0 1320.5C2178.8 1311.5 2179.7 1289.3 2180.5 1285.4C2181.7 1279.6 2183.0 1278.2 2184.2 1275.4C2185.5 1272.5 2186.7 1271.8 2188.0 1267.8C2189.3 1263.8 2190.5 1247.1 2191.8 1240.2C2193.0 1233.4 2194.3 1225.8 2195.5 1223.9C2196.3 1222.6 2197.2 1221.4 2198.0 1221.4C2199.0 1221.4 2200.0 1226.3 2201.0 1230.2C2202.1 1234.5 2203.2 1247.0 2204.3 1250.3C2205.6 1254.1 2206.8 1257.8 2208.1 1257.8C2209.3 1257.8 2210.6 1255.5 2211.8 1252.8C2213.1 1250.0 2214.3 1239.8 2215.6 1230.2C2216.4 1223.9 2217.3 1208.3 2218.1 1205.1C2219.4 1200.3 2220.6 1200.3 2221.9 1196.6C2223.1 1193.0 2224.4 1187.1 2225.6 1181.6C2227.3 1174.1 2229.0 1164.9 2230.7 1156.5C2232.4 1148.2 2234.0 1137.2 2235.7 1131.4C2236.9 1127.1 2238.2 1122.2 2239.4 1121.3C2240.3 1120.6 2241.1 1120.1 2242.0 1120.1C2243.2 1120.1 2244.5 1126.9 2245.7 1131.4C2247.0 1136.0 2248.2 1147.4 2249.5 1148.9C2250.7 1150.3 2252.0 1151.4 2253.2 1151.4C2254.5 1151.4 2255.7 1145.2 2257.0 1143.9C2258.3 1142.7 2259.5 1141.4 2260.8 1141.4C2262.0 1141.4 2263.3 1153.9 2264.5 1153.9C2265.8 1153.9 2267.0 1153.9 2268.3 1153.9C2269.6 1153.9 2270.8 1134.5 2272.1 1131.4C2273.2 1128.8 2274.2 1126.3 2275.3 1126.3C2276.3 1126.3 2277.3 1131.0 2278.3 1136.4C2279.2 1141.1 2280.0 1155.8 2280.9 1169.0C2281.6 1179.1 2282.2 1192.3 2282.9 1206.7C2283.6 1221.8 2284.3 1245.2 2285.0 1260.0C2285.7 1274.8 2286.4 1298.0 2287.1 1298.0C2287.9 1298.0 2288.7 1276.9 2289.5 1260.0C2290.3 1242.4 2291.2 1203.3 2292.0 1180.0C2292.7 1161.4 2293.3 1142.5 2294.0 1130.0C2294.7 1117.5 2295.3 1106.7 2296.0 1100.0"/>
</g>
<path d="M1749.5 350.0A37.0 502.0 0 0 1 1749.5 1354.0A37.0 502.0 0 0 1 1749.5 350.0Z" fill="none" stroke="#ff0000" stroke-width="9" stroke-linejoin="round" stroke-dasharray="52 19.95 15 19.95" stroke-dashoffset="91.56"/>
<text x="231.4" y="1809.8" font-size="87.2" text-anchor="middle">4000</text>
<text x="553.9" y="1809.8" font-size="87.2" text-anchor="middle">3500</text>
<text x="876.4" y="1809.8" font-size="87.2" text-anchor="middle">3000</text>
<text x="1198.8" y="1809.8" font-size="87.2" text-anchor="middle">2500</text>
<text x="1521.3" y="1809.8" font-size="87.2" text-anchor="middle">2000</text>
<text x="1843.7" y="1809.8" font-size="87.2" text-anchor="middle">1500</text>
<text x="2166.2" y="1809.8" font-size="87.2" text-anchor="middle">1000</text>
<text x="913.5" y="1963" font-size="86.5">Wavenumber/cm<tspan font-size="66" x="1547.5" y="1936.6">−</tspan><tspan font-size="59" x="1581.8" y="1928.9">1</tspan></text>
<text transform="translate(97.8 1188) rotate(-90)" font-size="86.5" letter-spacing="0.9">Transmittance/a.u.</text>
<text x="241.1" y="177.3" font-size="87.2" xml:space="preserve">Silicone resin</text>
<text x="282.0" y="302.8" font-size="87.2" xml:space="preserve">60 s</text>
<text x="281.0" y="430.8" font-size="87.2" xml:space="preserve">50 s</text>
<text x="277.9" y="575.6" font-size="87.2" xml:space="preserve">40 s</text>
<text x="274.0" y="712.1" font-size="87.2" xml:space="preserve">30 s</text>
<text x="271.0" y="845.2" font-size="87.2" xml:space="preserve">20 s</text>
<text x="293.5" y="976.6" font-size="87.2" xml:space="preserve">PUA</text>
</svg>
</body></html>
